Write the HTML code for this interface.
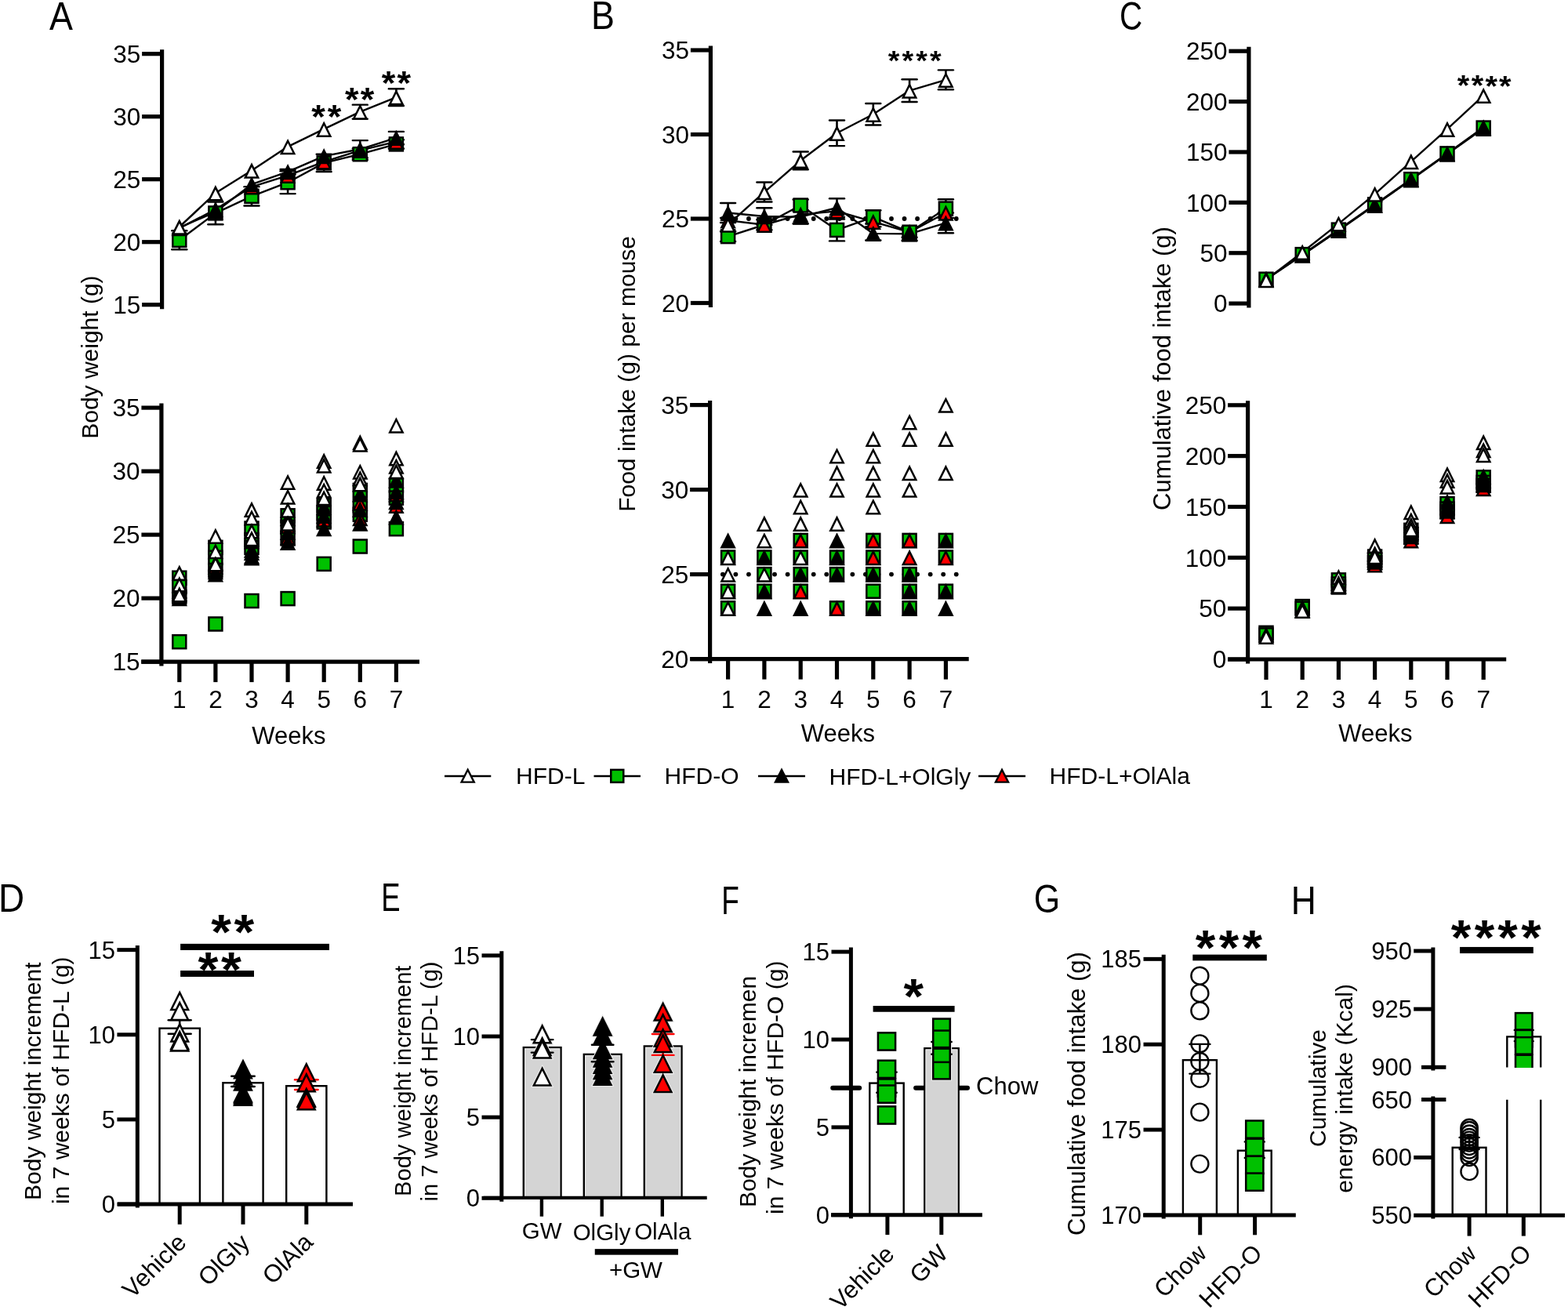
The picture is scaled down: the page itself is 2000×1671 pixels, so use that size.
<!DOCTYPE html>
<html><head><meta charset="utf-8"><title>Figure</title>
<style>
html,body{margin:0;padding:0;background:#fff;}
svg{display:block;}
text{font-family:"Liberation Sans", Arial, sans-serif;fill:#000;}
</style></head>
<body>
<svg width="2000" height="1671" viewBox="0 0 2000 1671">
<rect width="2000" height="1671" fill="#fff"/>
<text x="78" y="37.5" font-size="49.3" text-anchor="middle" transform="translate(78 37.5) scale(0.91 1) translate(-78 -37.5)">A</text>
<text x="768.9" y="37.3" font-size="49.3" text-anchor="middle" transform="translate(768.9 37.3) scale(0.91 1) translate(-768.9 -37.3)">B</text>
<text x="1442.6" y="37.7" font-size="49.3" text-anchor="middle" transform="translate(1442.6 37.7) scale(0.82 1) translate(-1442.6 -37.7)">C</text>
<text x="14.65" y="1163.12" font-size="49.3" text-anchor="middle" transform="translate(14.65 1163.12) scale(0.93 1) translate(-14.65 -1163.12)">D</text>
<text x="498.5" y="1162.4" font-size="49.3" text-anchor="middle" transform="translate(498.5 1162.4) scale(0.74 1) translate(-498.5 -1162.4)">E</text>
<text x="931.5" y="1166.4" font-size="49.3" text-anchor="middle" transform="translate(931.5 1166.4) scale(0.75 1) translate(-931.5 -1166.4)">F</text>
<text x="1335.5" y="1164" font-size="49.3" text-anchor="middle" transform="translate(1335.5 1164) scale(0.87 1) translate(-1335.5 -1164)">G</text>
<text x="1662.9" y="1165.9" font-size="49.3" text-anchor="middle" transform="translate(1662.9 1165.9) scale(0.9 1) translate(-1662.9 -1165.9)">H</text>
<text x="125.5" y="455.6" font-size="30" text-anchor="middle" transform="rotate(-90 125.5 455.6)">Body weight (g)</text>
<line x1="206.6" y1="63.2" x2="206.6" y2="394.2" stroke="#000" stroke-width="5.2" stroke-linecap="butt"/>
<line x1="181.1" y1="68.7" x2="206.6" y2="68.7" stroke="#000" stroke-width="5.2" stroke-linecap="butt"/>
<line x1="181.1" y1="148.7" x2="206.6" y2="148.7" stroke="#000" stroke-width="5.2" stroke-linecap="butt"/>
<line x1="181.1" y1="228.7" x2="206.6" y2="228.7" stroke="#000" stroke-width="5.2" stroke-linecap="butt"/>
<line x1="181.1" y1="308.7" x2="206.6" y2="308.7" stroke="#000" stroke-width="5.2" stroke-linecap="butt"/>
<line x1="181.1" y1="388.7" x2="206.6" y2="388.7" stroke="#000" stroke-width="5.2" stroke-linecap="butt"/>
<text x="179.3" y="79.88" font-size="31.5" text-anchor="end">35</text>
<text x="179.3" y="159.88" font-size="31.5" text-anchor="end">30</text>
<text x="179.3" y="239.88" font-size="31.5" text-anchor="end">25</text>
<text x="179.3" y="319.88" font-size="31.5" text-anchor="end">20</text>
<text x="179.3" y="399.88" font-size="31.5" text-anchor="end">15</text>
<polyline points="228.8,306.3 274.9,271.9 321,250.3 367.1,232.7 413.2,207.9 459.3,196.7 505.4,183.9" fill="none" stroke="#000" stroke-width="2.4" stroke-linejoin="round"/>
<polyline points="228.8,291.1 274.9,267.1 321,238.3 367.1,223.9 413.2,206.3 459.3,191.9 505.4,180.7" fill="none" stroke="#000" stroke-width="2.4" stroke-linejoin="round"/>
<polyline points="228.8,290.3 274.9,270.3 321,235.1 367.1,219.1 413.2,199.1 459.3,190.3 505.4,175.9" fill="none" stroke="#000" stroke-width="2.4" stroke-linejoin="round"/>
<polyline points="228.8,289.5 274.9,246.3 321,217.5 367.1,187.1 413.2,164.7 459.3,142.62 505.4,124.06" fill="none" stroke="#000" stroke-width="2.4" stroke-linejoin="round"/>
<line x1="228.8" y1="294.3" x2="228.8" y2="318.3" stroke="#000" stroke-width="2.6" stroke-linecap="butt"/>
<line x1="219.3" y1="294.3" x2="238.3" y2="294.3" stroke="#000" stroke-width="2.4" stroke-linecap="round"/>
<line x1="219.3" y1="318.3" x2="238.3" y2="318.3" stroke="#000" stroke-width="2.4" stroke-linecap="round"/>
<line x1="274.9" y1="257.5" x2="274.9" y2="286.3" stroke="#000" stroke-width="2.6" stroke-linecap="butt"/>
<line x1="265.4" y1="257.5" x2="284.4" y2="257.5" stroke="#000" stroke-width="2.4" stroke-linecap="round"/>
<line x1="265.4" y1="286.3" x2="284.4" y2="286.3" stroke="#000" stroke-width="2.4" stroke-linecap="round"/>
<line x1="321" y1="238.14" x2="321" y2="262.46" stroke="#000" stroke-width="2.6" stroke-linecap="butt"/>
<line x1="311.5" y1="238.14" x2="330.5" y2="238.14" stroke="#000" stroke-width="2.4" stroke-linecap="round"/>
<line x1="311.5" y1="262.46" x2="330.5" y2="262.46" stroke="#000" stroke-width="2.4" stroke-linecap="round"/>
<line x1="367.1" y1="218.3" x2="367.1" y2="247.1" stroke="#000" stroke-width="2.6" stroke-linecap="butt"/>
<line x1="357.6" y1="218.3" x2="376.6" y2="218.3" stroke="#000" stroke-width="2.4" stroke-linecap="round"/>
<line x1="357.6" y1="247.1" x2="376.6" y2="247.1" stroke="#000" stroke-width="2.4" stroke-linecap="round"/>
<line x1="413.2" y1="196.7" x2="413.2" y2="219.1" stroke="#000" stroke-width="2.6" stroke-linecap="butt"/>
<line x1="403.7" y1="196.7" x2="422.7" y2="196.7" stroke="#000" stroke-width="2.4" stroke-linecap="round"/>
<line x1="403.7" y1="219.1" x2="422.7" y2="219.1" stroke="#000" stroke-width="2.4" stroke-linecap="round"/>
<line x1="459.3" y1="189.5" x2="459.3" y2="203.9" stroke="#000" stroke-width="2.6" stroke-linecap="butt"/>
<line x1="449.8" y1="189.5" x2="468.8" y2="189.5" stroke="#000" stroke-width="2.4" stroke-linecap="round"/>
<line x1="449.8" y1="203.9" x2="468.8" y2="203.9" stroke="#000" stroke-width="2.4" stroke-linecap="round"/>
<line x1="505.4" y1="178.3" x2="505.4" y2="189.5" stroke="#000" stroke-width="2.6" stroke-linecap="butt"/>
<line x1="495.9" y1="178.3" x2="514.9" y2="178.3" stroke="#000" stroke-width="2.4" stroke-linecap="round"/>
<line x1="495.9" y1="189.5" x2="514.9" y2="189.5" stroke="#000" stroke-width="2.4" stroke-linecap="round"/>
<line x1="367.1" y1="215.9" x2="367.1" y2="222.3" stroke="#000" stroke-width="2.6" stroke-linecap="butt"/>
<line x1="357.6" y1="215.9" x2="376.6" y2="215.9" stroke="#000" stroke-width="2.4" stroke-linecap="round"/>
<line x1="357.6" y1="222.3" x2="376.6" y2="222.3" stroke="#000" stroke-width="2.4" stroke-linecap="round"/>
<line x1="459.3" y1="179.1" x2="459.3" y2="201.5" stroke="#000" stroke-width="2.6" stroke-linecap="butt"/>
<line x1="449.8" y1="179.1" x2="468.8" y2="179.1" stroke="#000" stroke-width="2.4" stroke-linecap="round"/>
<line x1="449.8" y1="201.5" x2="468.8" y2="201.5" stroke="#000" stroke-width="2.4" stroke-linecap="round"/>
<line x1="505.4" y1="167.9" x2="505.4" y2="183.9" stroke="#000" stroke-width="2.6" stroke-linecap="butt"/>
<line x1="495.9" y1="167.9" x2="514.9" y2="167.9" stroke="#000" stroke-width="2.4" stroke-linecap="round"/>
<line x1="495.9" y1="183.9" x2="514.9" y2="183.9" stroke="#000" stroke-width="2.4" stroke-linecap="round"/>
<line x1="459.3" y1="133.66" x2="459.3" y2="151.58" stroke="#000" stroke-width="2.6" stroke-linecap="butt"/>
<line x1="449.8" y1="133.66" x2="468.8" y2="133.66" stroke="#000" stroke-width="2.4" stroke-linecap="round"/>
<line x1="449.8" y1="151.58" x2="468.8" y2="151.58" stroke="#000" stroke-width="2.4" stroke-linecap="round"/>
<line x1="505.4" y1="113.18" x2="505.4" y2="134.94" stroke="#000" stroke-width="2.6" stroke-linecap="butt"/>
<line x1="495.9" y1="113.18" x2="514.9" y2="113.18" stroke="#000" stroke-width="2.4" stroke-linecap="round"/>
<line x1="495.9" y1="134.94" x2="514.9" y2="134.94" stroke="#000" stroke-width="2.4" stroke-linecap="round"/>
<rect x="219.05" y="296.55" width="19.5" height="19.5" fill="#000"/>
<rect x="221.55" y="299.05" width="14.5" height="14.5" fill="#00c000"/>
<rect x="265.15" y="262.15" width="19.5" height="19.5" fill="#000"/>
<rect x="267.65" y="264.65" width="14.5" height="14.5" fill="#00c000"/>
<rect x="311.25" y="240.55" width="19.5" height="19.5" fill="#000"/>
<rect x="313.75" y="243.05" width="14.5" height="14.5" fill="#00c000"/>
<rect x="357.35" y="222.95" width="19.5" height="19.5" fill="#000"/>
<rect x="359.85" y="225.45" width="14.5" height="14.5" fill="#00c000"/>
<rect x="403.45" y="198.15" width="19.5" height="19.5" fill="#000"/>
<rect x="405.95" y="200.65" width="14.5" height="14.5" fill="#00c000"/>
<rect x="449.55" y="186.95" width="19.5" height="19.5" fill="#000"/>
<rect x="452.05" y="189.45" width="14.5" height="14.5" fill="#00c000"/>
<rect x="495.65" y="174.15" width="19.5" height="19.5" fill="#000"/>
<rect x="498.15" y="176.65" width="14.5" height="14.5" fill="#00c000"/>
<polygon points="228.8,280.9 239,301.3 218.6,301.3" fill="#000"/>
<polygon points="228.8,286.49 234.95,298.8 222.65,298.8" fill="#ff0000"/>
<polygon points="274.9,256.9 285.1,277.3 264.7,277.3" fill="#000"/>
<polygon points="274.9,262.49 281.05,274.8 268.75,274.8" fill="#ff0000"/>
<polygon points="321,228.1 331.2,248.5 310.8,248.5" fill="#000"/>
<polygon points="321,233.69 327.15,246 314.85,246" fill="#ff0000"/>
<polygon points="367.1,213.7 377.3,234.1 356.9,234.1" fill="#000"/>
<polygon points="367.1,219.29 373.25,231.6 360.95,231.6" fill="#ff0000"/>
<polygon points="413.2,196.1 423.4,216.5 403,216.5" fill="#000"/>
<polygon points="413.2,201.69 419.35,214 407.05,214" fill="#ff0000"/>
<polygon points="459.3,181.7 469.5,202.1 449.1,202.1" fill="#000"/>
<polygon points="459.3,187.29 465.45,199.6 453.15,199.6" fill="#ff0000"/>
<polygon points="505.4,170.5 515.6,190.9 495.2,190.9" fill="#000"/>
<polygon points="505.4,176.09 511.55,188.4 499.25,188.4" fill="#ff0000"/>
<polygon points="228.8,280.1 239,300.5 218.6,300.5" fill="#000"/>
<polygon points="274.9,260.1 285.1,280.5 264.7,280.5" fill="#000"/>
<polygon points="321,224.9 331.2,245.3 310.8,245.3" fill="#000"/>
<polygon points="367.1,208.9 377.3,229.3 356.9,229.3" fill="#000"/>
<polygon points="413.2,188.9 423.4,209.3 403,209.3" fill="#000"/>
<polygon points="459.3,180.1 469.5,200.5 449.1,200.5" fill="#000"/>
<polygon points="505.4,165.7 515.6,186.1 495.2,186.1" fill="#000"/>
<polygon points="228.8,279.3 239,299.7 218.6,299.7" fill="#000"/>
<polygon points="228.8,284.89 234.95,297.2 222.65,297.2" fill="#fff"/>
<polygon points="274.9,236.1 285.1,256.5 264.7,256.5" fill="#000"/>
<polygon points="274.9,241.69 281.05,254 268.75,254" fill="#fff"/>
<polygon points="321,207.3 331.2,227.7 310.8,227.7" fill="#000"/>
<polygon points="321,212.89 327.15,225.2 314.85,225.2" fill="#fff"/>
<polygon points="367.1,176.9 377.3,197.3 356.9,197.3" fill="#000"/>
<polygon points="367.1,182.49 373.25,194.8 360.95,194.8" fill="#fff"/>
<polygon points="413.2,154.5 423.4,174.9 403,174.9" fill="#000"/>
<polygon points="413.2,160.09 419.35,172.4 407.05,172.4" fill="#fff"/>
<polygon points="459.3,132.42 469.5,152.82 449.1,152.82" fill="#000"/>
<polygon points="459.3,138.01 465.45,150.32 453.15,150.32" fill="#fff"/>
<polygon points="505.4,113.86 515.6,134.26 495.2,134.26" fill="#000"/>
<polygon points="505.4,119.45 511.55,131.76 499.25,131.76" fill="#fff"/>
<text x="406" y="163.4" font-size="42.97" text-anchor="middle" font-weight="bold" transform="translate(406 163.4) scale(1.05 1) translate(-406 -163.4)">*</text>
<text x="426.6" y="163.4" font-size="42.97" text-anchor="middle" font-weight="bold" transform="translate(426.6 163.4) scale(1.05 1) translate(-426.6 -163.4)">*</text>
<text x="448.8" y="140.6" font-size="42.97" text-anchor="middle" font-weight="bold" transform="translate(448.8 140.6) scale(1.05 1) translate(-448.8 -140.6)">*</text>
<text x="468.6" y="140.6" font-size="42.97" text-anchor="middle" font-weight="bold" transform="translate(468.6 140.6) scale(1.05 1) translate(-468.6 -140.6)">*</text>
<text x="495.6" y="119.8" font-size="42.97" text-anchor="middle" font-weight="bold" transform="translate(495.6 119.8) scale(1.05 1) translate(-495.6 -119.8)">*</text>
<text x="515.4" y="119.8" font-size="42.97" text-anchor="middle" font-weight="bold" transform="translate(515.4 119.8) scale(1.05 1) translate(-515.4 -119.8)">*</text>
<line x1="205.9" y1="514.6" x2="205.9" y2="849.6" stroke="#000" stroke-width="5.2" stroke-linecap="butt"/>
<line x1="180.4" y1="520.1" x2="205.9" y2="520.1" stroke="#000" stroke-width="5.2" stroke-linecap="butt"/>
<line x1="180.4" y1="601.1" x2="205.9" y2="601.1" stroke="#000" stroke-width="5.2" stroke-linecap="butt"/>
<line x1="180.4" y1="682.1" x2="205.9" y2="682.1" stroke="#000" stroke-width="5.2" stroke-linecap="butt"/>
<line x1="180.4" y1="763.1" x2="205.9" y2="763.1" stroke="#000" stroke-width="5.2" stroke-linecap="butt"/>
<line x1="180.4" y1="844.1" x2="205.9" y2="844.1" stroke="#000" stroke-width="5.2" stroke-linecap="butt"/>
<text x="178.6" y="531.28" font-size="31.5" text-anchor="end">35</text>
<text x="178.6" y="612.28" font-size="31.5" text-anchor="end">30</text>
<text x="178.6" y="693.28" font-size="31.5" text-anchor="end">25</text>
<text x="178.6" y="774.28" font-size="31.5" text-anchor="end">20</text>
<text x="178.6" y="855.28" font-size="31.5" text-anchor="end">15</text>
<line x1="180.2" y1="844.1" x2="535" y2="844.1" stroke="#000" stroke-width="5.2" stroke-linecap="butt"/>
<line x1="228.8" y1="844.1" x2="228.8" y2="870.1" stroke="#000" stroke-width="5.2" stroke-linecap="butt"/>
<line x1="274.9" y1="844.1" x2="274.9" y2="870.1" stroke="#000" stroke-width="5.2" stroke-linecap="butt"/>
<line x1="321" y1="844.1" x2="321" y2="870.1" stroke="#000" stroke-width="5.2" stroke-linecap="butt"/>
<line x1="367.1" y1="844.1" x2="367.1" y2="870.1" stroke="#000" stroke-width="5.2" stroke-linecap="butt"/>
<line x1="413.2" y1="844.1" x2="413.2" y2="870.1" stroke="#000" stroke-width="5.2" stroke-linecap="butt"/>
<line x1="459.3" y1="844.1" x2="459.3" y2="870.1" stroke="#000" stroke-width="5.2" stroke-linecap="butt"/>
<line x1="505.4" y1="844.1" x2="505.4" y2="870.1" stroke="#000" stroke-width="5.2" stroke-linecap="butt"/>
<text x="228.8" y="902.6" font-size="31.5" text-anchor="middle">1</text>
<text x="274.9" y="902.6" font-size="31.5" text-anchor="middle">2</text>
<text x="321" y="902.6" font-size="31.5" text-anchor="middle">3</text>
<text x="367.1" y="902.6" font-size="31.5" text-anchor="middle">4</text>
<text x="413.2" y="902.6" font-size="31.5" text-anchor="middle">5</text>
<text x="459.3" y="902.6" font-size="31.5" text-anchor="middle">6</text>
<text x="505.4" y="902.6" font-size="31.5" text-anchor="middle">7</text>
<text x="368.4" y="949.1" font-size="31" text-anchor="middle">Weeks</text>
<rect x="219.05" y="727.43" width="19.5" height="19.5" fill="#000"/>
<rect x="221.55" y="729.93" width="14.5" height="14.5" fill="#00c000"/>
<rect x="219.05" y="738.77" width="19.5" height="19.5" fill="#000"/>
<rect x="221.55" y="741.27" width="14.5" height="14.5" fill="#00c000"/>
<rect x="219.05" y="751.73" width="19.5" height="19.5" fill="#000"/>
<rect x="221.55" y="754.23" width="14.5" height="14.5" fill="#00c000"/>
<rect x="219.05" y="808.92" width="19.5" height="19.5" fill="#000"/>
<rect x="221.55" y="811.42" width="14.5" height="14.5" fill="#00c000"/>
<rect x="265.15" y="688.55" width="19.5" height="19.5" fill="#000"/>
<rect x="267.65" y="691.05" width="14.5" height="14.5" fill="#00c000"/>
<rect x="265.15" y="701.51" width="19.5" height="19.5" fill="#000"/>
<rect x="267.65" y="704.01" width="14.5" height="14.5" fill="#00c000"/>
<rect x="265.15" y="717.71" width="19.5" height="19.5" fill="#000"/>
<rect x="267.65" y="720.21" width="14.5" height="14.5" fill="#00c000"/>
<rect x="265.15" y="786.24" width="19.5" height="19.5" fill="#000"/>
<rect x="267.65" y="788.74" width="14.5" height="14.5" fill="#00c000"/>
<rect x="311.25" y="664.25" width="19.5" height="19.5" fill="#000"/>
<rect x="313.75" y="666.75" width="14.5" height="14.5" fill="#00c000"/>
<rect x="311.25" y="678.83" width="19.5" height="19.5" fill="#000"/>
<rect x="313.75" y="681.33" width="14.5" height="14.5" fill="#00c000"/>
<rect x="311.25" y="688.55" width="19.5" height="19.5" fill="#000"/>
<rect x="313.75" y="691.05" width="14.5" height="14.5" fill="#00c000"/>
<rect x="311.25" y="756.75" width="19.5" height="19.5" fill="#000"/>
<rect x="313.75" y="759.25" width="14.5" height="14.5" fill="#00c000"/>
<rect x="357.35" y="648.05" width="19.5" height="19.5" fill="#000"/>
<rect x="359.85" y="650.55" width="14.5" height="14.5" fill="#00c000"/>
<rect x="357.35" y="662.63" width="19.5" height="19.5" fill="#000"/>
<rect x="359.85" y="665.13" width="14.5" height="14.5" fill="#00c000"/>
<rect x="357.35" y="677.21" width="19.5" height="19.5" fill="#000"/>
<rect x="359.85" y="679.71" width="14.5" height="14.5" fill="#00c000"/>
<rect x="357.35" y="753.84" width="19.5" height="19.5" fill="#000"/>
<rect x="359.85" y="756.34" width="14.5" height="14.5" fill="#00c000"/>
<rect x="403.45" y="635.09" width="19.5" height="19.5" fill="#000"/>
<rect x="405.95" y="637.59" width="14.5" height="14.5" fill="#00c000"/>
<rect x="403.45" y="644.81" width="19.5" height="19.5" fill="#000"/>
<rect x="405.95" y="647.31" width="14.5" height="14.5" fill="#00c000"/>
<rect x="403.45" y="656.15" width="19.5" height="19.5" fill="#000"/>
<rect x="405.95" y="658.65" width="14.5" height="14.5" fill="#00c000"/>
<rect x="403.45" y="709.61" width="19.5" height="19.5" fill="#000"/>
<rect x="405.95" y="712.11" width="14.5" height="14.5" fill="#00c000"/>
<rect x="449.55" y="615.65" width="19.5" height="19.5" fill="#000"/>
<rect x="452.05" y="618.15" width="14.5" height="14.5" fill="#00c000"/>
<rect x="449.55" y="635.09" width="19.5" height="19.5" fill="#000"/>
<rect x="452.05" y="637.59" width="14.5" height="14.5" fill="#00c000"/>
<rect x="449.55" y="646.43" width="19.5" height="19.5" fill="#000"/>
<rect x="452.05" y="648.93" width="14.5" height="14.5" fill="#00c000"/>
<rect x="449.55" y="687.25" width="19.5" height="19.5" fill="#000"/>
<rect x="452.05" y="689.75" width="14.5" height="14.5" fill="#00c000"/>
<rect x="495.65" y="609.17" width="19.5" height="19.5" fill="#000"/>
<rect x="498.15" y="611.67" width="14.5" height="14.5" fill="#00c000"/>
<rect x="495.65" y="625.37" width="19.5" height="19.5" fill="#000"/>
<rect x="498.15" y="627.87" width="14.5" height="14.5" fill="#00c000"/>
<rect x="495.65" y="664.9" width="19.5" height="19.5" fill="#000"/>
<rect x="498.15" y="667.4" width="14.5" height="14.5" fill="#00c000"/>
<polygon points="228.8,743.18 239,763.58 218.6,763.58" fill="#000"/>
<polygon points="228.8,748.77 234.95,761.08 222.65,761.08" fill="#ff0000"/>
<polygon points="274.9,712.4 285.1,732.8 264.7,732.8" fill="#000"/>
<polygon points="274.9,717.99 281.05,730.3 268.75,730.3" fill="#ff0000"/>
<polygon points="321,694.58 331.2,714.98 310.8,714.98" fill="#000"/>
<polygon points="321,700.17 327.15,712.48 314.85,712.48" fill="#ff0000"/>
<polygon points="321,701.06 331.2,721.46 310.8,721.46" fill="#000"/>
<polygon points="321,706.65 327.15,718.96 314.85,718.96" fill="#ff0000"/>
<polygon points="367.1,660.56 377.3,680.96 356.9,680.96" fill="#000"/>
<polygon points="367.1,666.15 373.25,678.46 360.95,678.46" fill="#ff0000"/>
<polygon points="367.1,675.14 377.3,695.54 356.9,695.54" fill="#000"/>
<polygon points="367.1,680.73 373.25,693.04 360.95,693.04" fill="#ff0000"/>
<polygon points="413.2,652.46 423.4,672.86 403,672.86" fill="#000"/>
<polygon points="413.2,658.05 419.35,670.36 407.05,670.36" fill="#ff0000"/>
<polygon points="459.3,631.4 469.5,651.8 449.1,651.8" fill="#000"/>
<polygon points="459.3,636.99 465.45,649.3 453.15,649.3" fill="#ff0000"/>
<polygon points="459.3,650.84 469.5,671.24 449.1,671.24" fill="#000"/>
<polygon points="459.3,656.43 465.45,668.74 453.15,668.74" fill="#ff0000"/>
<polygon points="505.4,620.06 515.6,640.46 495.2,640.46" fill="#000"/>
<polygon points="505.4,625.65 511.55,637.96 499.25,637.96" fill="#ff0000"/>
<polygon points="505.4,634.64 515.6,655.04 495.2,655.04" fill="#000"/>
<polygon points="505.4,640.23 511.55,652.54 499.25,652.54" fill="#ff0000"/>
<polygon points="228.8,736.7 239,757.1 218.6,757.1" fill="#000"/>
<polygon points="228.8,746.42 239,766.82 218.6,766.82" fill="#000"/>
<polygon points="228.8,752.9 239,773.3 218.6,773.3" fill="#000"/>
<polygon points="274.9,707.54 285.1,727.94 264.7,727.94" fill="#000"/>
<polygon points="274.9,718.88 285.1,739.28 264.7,739.28" fill="#000"/>
<polygon points="274.9,722.12 285.1,742.52 264.7,742.52" fill="#000"/>
<polygon points="321,680 331.2,700.4 310.8,700.4" fill="#000"/>
<polygon points="321,691.34 331.2,711.74 310.8,711.74" fill="#000"/>
<polygon points="321,699.44 331.2,719.84 310.8,719.84" fill="#000"/>
<polygon points="367.1,650.84 377.3,671.24 356.9,671.24" fill="#000"/>
<polygon points="367.1,668.66 377.3,689.06 356.9,689.06" fill="#000"/>
<polygon points="367.1,681.62 377.3,702.02 356.9,702.02" fill="#000"/>
<polygon points="413.2,636.26 423.4,656.66 403,656.66" fill="#000"/>
<polygon points="413.2,647.6 423.4,668 403,668" fill="#000"/>
<polygon points="413.2,663.8 423.4,684.2 403,684.2" fill="#000"/>
<polygon points="459.3,620.06 469.5,640.46 449.1,640.46" fill="#000"/>
<polygon points="459.3,639.5 469.5,659.9 449.1,659.9" fill="#000"/>
<polygon points="459.3,657.32 469.5,677.72 449.1,677.72" fill="#000"/>
<polygon points="505.4,602.24 515.6,622.64 495.2,622.64" fill="#000"/>
<polygon points="505.4,616.82 515.6,637.22 495.2,637.22" fill="#000"/>
<polygon points="505.4,629.78 515.6,650.18 495.2,650.18" fill="#000"/>
<polygon points="505.4,649.22 515.6,669.62 495.2,669.62" fill="#000"/>
<polygon points="228.8,720.5 239,740.9 218.6,740.9" fill="#000"/>
<polygon points="228.8,726.09 234.95,738.4 222.65,738.4" fill="#fff"/>
<polygon points="228.8,735.08 239,755.48 218.6,755.48" fill="#000"/>
<polygon points="228.8,740.67 234.95,752.98 222.65,752.98" fill="#fff"/>
<polygon points="228.8,748.04 239,768.44 218.6,768.44" fill="#000"/>
<polygon points="228.8,753.63 234.95,765.94 222.65,765.94" fill="#fff"/>
<polygon points="274.9,673.52 285.1,693.92 264.7,693.92" fill="#000"/>
<polygon points="274.9,679.11 281.05,691.42 268.75,691.42" fill="#fff"/>
<polygon points="274.9,692.96 285.1,713.36 264.7,713.36" fill="#000"/>
<polygon points="274.9,698.55 281.05,710.86 268.75,710.86" fill="#fff"/>
<polygon points="274.9,709.16 285.1,729.56 264.7,729.56" fill="#000"/>
<polygon points="274.9,714.75 281.05,727.06 268.75,727.06" fill="#fff"/>
<polygon points="321,639.5 331.2,659.9 310.8,659.9" fill="#000"/>
<polygon points="321,645.09 327.15,657.4 314.85,657.4" fill="#fff"/>
<polygon points="321,650.03 331.2,670.43 310.8,670.43" fill="#000"/>
<polygon points="321,655.62 327.15,667.93 314.85,667.93" fill="#fff"/>
<polygon points="321,667.04 331.2,687.44 310.8,687.44" fill="#000"/>
<polygon points="321,672.63 327.15,684.94 314.85,684.94" fill="#fff"/>
<polygon points="321,676.76 331.2,697.16 310.8,697.16" fill="#000"/>
<polygon points="321,682.35 327.15,694.66 314.85,694.66" fill="#fff"/>
<polygon points="367.1,604.67 377.3,625.07 356.9,625.07" fill="#000"/>
<polygon points="367.1,610.26 373.25,622.57 360.95,622.57" fill="#fff"/>
<polygon points="367.1,623.3 377.3,643.7 356.9,643.7" fill="#000"/>
<polygon points="367.1,628.89 373.25,641.2 360.95,641.2" fill="#fff"/>
<polygon points="367.1,640.31 377.3,660.71 356.9,660.71" fill="#000"/>
<polygon points="367.1,645.9 373.25,658.21 360.95,658.21" fill="#fff"/>
<polygon points="367.1,657.32 377.3,677.72 356.9,677.72" fill="#000"/>
<polygon points="367.1,662.91 373.25,675.22 360.95,675.22" fill="#fff"/>
<polygon points="413.2,577.62 423.4,598.02 403,598.02" fill="#000"/>
<polygon points="413.2,583.21 419.35,595.52 407.05,595.52" fill="#fff"/>
<polygon points="413.2,583.45 423.4,603.85 403,603.85" fill="#000"/>
<polygon points="413.2,589.04 419.35,601.35 407.05,601.35" fill="#fff"/>
<polygon points="413.2,605.48 423.4,625.88 403,625.88" fill="#000"/>
<polygon points="413.2,611.07 419.35,623.38 407.05,623.38" fill="#fff"/>
<polygon points="413.2,615.2 423.4,635.6 403,635.6" fill="#000"/>
<polygon points="413.2,620.79 419.35,633.1 407.05,633.1" fill="#fff"/>
<polygon points="413.2,624.92 423.4,645.32 403,645.32" fill="#000"/>
<polygon points="413.2,630.51 419.35,642.82 407.05,642.82" fill="#fff"/>
<polygon points="459.3,553.96 469.5,574.36 449.1,574.36" fill="#000"/>
<polygon points="459.3,559.55 465.45,571.86 453.15,571.86" fill="#fff"/>
<polygon points="459.3,556.39 469.5,576.79 449.1,576.79" fill="#000"/>
<polygon points="459.3,561.98 465.45,574.29 453.15,574.29" fill="#fff"/>
<polygon points="459.3,591.39 469.5,611.79 449.1,611.79" fill="#000"/>
<polygon points="459.3,596.98 465.45,609.29 453.15,609.29" fill="#fff"/>
<polygon points="459.3,599.81 469.5,620.21 449.1,620.21" fill="#000"/>
<polygon points="459.3,605.4 465.45,617.71 453.15,617.71" fill="#fff"/>
<polygon points="459.3,607.1 469.5,627.5 449.1,627.5" fill="#000"/>
<polygon points="459.3,612.69 465.45,625 453.15,625" fill="#fff"/>
<polygon points="505.4,532.26 515.6,552.66 495.2,552.66" fill="#000"/>
<polygon points="505.4,537.85 511.55,550.16 499.25,550.16" fill="#fff"/>
<polygon points="505.4,574.05 515.6,594.45 495.2,594.45" fill="#000"/>
<polygon points="505.4,579.64 511.55,591.95 499.25,591.95" fill="#fff"/>
<polygon points="505.4,584.42 515.6,604.82 495.2,604.82" fill="#000"/>
<polygon points="505.4,590.01 511.55,602.32 499.25,602.32" fill="#fff"/>
<polygon points="505.4,590.9 515.6,611.3 495.2,611.3" fill="#000"/>
<polygon points="505.4,596.49 511.55,608.8 499.25,608.8" fill="#fff"/>
<text x="809.55" y="476.9" font-size="30" text-anchor="middle" transform="rotate(-90 809.55 476.9)">Food intake (g) per mouse</text>
<line x1="906.4" y1="58.5" x2="906.4" y2="392" stroke="#000" stroke-width="5.2" stroke-linecap="butt"/>
<line x1="880.9" y1="64" x2="906.4" y2="64" stroke="#000" stroke-width="5.2" stroke-linecap="butt"/>
<line x1="880.9" y1="171.5" x2="906.4" y2="171.5" stroke="#000" stroke-width="5.2" stroke-linecap="butt"/>
<line x1="880.9" y1="279" x2="906.4" y2="279" stroke="#000" stroke-width="5.2" stroke-linecap="butt"/>
<line x1="880.9" y1="386.5" x2="906.4" y2="386.5" stroke="#000" stroke-width="5.2" stroke-linecap="butt"/>
<text x="879.1" y="75.18" font-size="31.5" text-anchor="end">35</text>
<text x="879.1" y="182.68" font-size="31.5" text-anchor="end">30</text>
<text x="879.1" y="290.18" font-size="31.5" text-anchor="end">25</text>
<text x="879.1" y="397.68" font-size="31.5" text-anchor="end">20</text>
<circle cx="921.85" cy="279" r="2.9" fill="#000"/>
<circle cx="938.4" cy="279" r="2.9" fill="#000"/>
<circle cx="954.95" cy="279" r="2.9" fill="#000"/>
<circle cx="971.5" cy="279" r="2.9" fill="#000"/>
<circle cx="988.05" cy="279" r="2.9" fill="#000"/>
<circle cx="1004.6" cy="279" r="2.9" fill="#000"/>
<circle cx="1021.15" cy="279" r="2.9" fill="#000"/>
<circle cx="1037.7" cy="279" r="2.9" fill="#000"/>
<circle cx="1054.25" cy="279" r="2.9" fill="#000"/>
<circle cx="1070.8" cy="279" r="2.9" fill="#000"/>
<circle cx="1087.35" cy="279" r="2.9" fill="#000"/>
<circle cx="1103.9" cy="279" r="2.9" fill="#000"/>
<circle cx="1120.45" cy="279" r="2.9" fill="#000"/>
<circle cx="1137" cy="279" r="2.9" fill="#000"/>
<circle cx="1153.55" cy="279" r="2.9" fill="#000"/>
<circle cx="1170.1" cy="279" r="2.9" fill="#000"/>
<circle cx="1186.65" cy="279" r="2.9" fill="#000"/>
<circle cx="1203.2" cy="279" r="2.9" fill="#000"/>
<circle cx="1219.75" cy="279" r="2.9" fill="#000"/>
<polyline points="928.6,301.58 974.9,286.74 1021.2,262.02 1067.5,293.41 1113.8,276.85 1160.1,296.2 1206.4,266.1" fill="none" stroke="#000" stroke-width="2.4" stroke-linejoin="round"/>
<polyline points="928.6,281.15 974.9,286.74 1021.2,273.62 1067.5,269.32 1113.8,282.87 1160.1,296.2 1206.4,271.47" fill="none" stroke="#000" stroke-width="2.4" stroke-linejoin="round"/>
<polyline points="928.6,271.47 974.9,275.99 1021.2,276.63 1067.5,265.03 1113.8,297.92 1160.1,298.35 1206.4,284.38" fill="none" stroke="#000" stroke-width="2.4" stroke-linejoin="round"/>
<polyline points="928.6,286.53 974.9,245.03 1021.2,204.83 1067.5,169.78 1113.8,145.7 1160.1,115.6 1206.4,101.84" fill="none" stroke="#000" stroke-width="2.4" stroke-linejoin="round"/>
<line x1="928.6" y1="295.12" x2="928.6" y2="308.03" stroke="#000" stroke-width="2.6" stroke-linecap="butt"/>
<line x1="919.1" y1="295.12" x2="938.1" y2="295.12" stroke="#000" stroke-width="2.4" stroke-linecap="round"/>
<line x1="919.1" y1="308.03" x2="938.1" y2="308.03" stroke="#000" stroke-width="2.4" stroke-linecap="round"/>
<line x1="974.9" y1="280.29" x2="974.9" y2="293.19" stroke="#000" stroke-width="2.6" stroke-linecap="butt"/>
<line x1="965.4" y1="280.29" x2="984.4" y2="280.29" stroke="#000" stroke-width="2.4" stroke-linecap="round"/>
<line x1="965.4" y1="293.19" x2="984.4" y2="293.19" stroke="#000" stroke-width="2.4" stroke-linecap="round"/>
<line x1="1021.2" y1="254.49" x2="1021.2" y2="269.54" stroke="#000" stroke-width="2.6" stroke-linecap="butt"/>
<line x1="1011.7" y1="254.49" x2="1030.7" y2="254.49" stroke="#000" stroke-width="2.4" stroke-linecap="round"/>
<line x1="1011.7" y1="269.54" x2="1030.7" y2="269.54" stroke="#000" stroke-width="2.4" stroke-linecap="round"/>
<line x1="1067.5" y1="279.43" x2="1067.5" y2="307.38" stroke="#000" stroke-width="2.6" stroke-linecap="butt"/>
<line x1="1058" y1="279.43" x2="1077" y2="279.43" stroke="#000" stroke-width="2.4" stroke-linecap="round"/>
<line x1="1058" y1="307.38" x2="1077" y2="307.38" stroke="#000" stroke-width="2.4" stroke-linecap="round"/>
<line x1="1113.8" y1="268.25" x2="1113.8" y2="285.45" stroke="#000" stroke-width="2.6" stroke-linecap="butt"/>
<line x1="1104.3" y1="268.25" x2="1123.3" y2="268.25" stroke="#000" stroke-width="2.4" stroke-linecap="round"/>
<line x1="1104.3" y1="285.45" x2="1123.3" y2="285.45" stroke="#000" stroke-width="2.4" stroke-linecap="round"/>
<line x1="1160.1" y1="289.75" x2="1160.1" y2="302.65" stroke="#000" stroke-width="2.6" stroke-linecap="butt"/>
<line x1="1150.6" y1="289.75" x2="1169.6" y2="289.75" stroke="#000" stroke-width="2.4" stroke-linecap="round"/>
<line x1="1150.6" y1="302.65" x2="1169.6" y2="302.65" stroke="#000" stroke-width="2.4" stroke-linecap="round"/>
<line x1="1206.4" y1="254.27" x2="1206.4" y2="277.93" stroke="#000" stroke-width="2.6" stroke-linecap="butt"/>
<line x1="1196.9" y1="254.27" x2="1215.9" y2="254.27" stroke="#000" stroke-width="2.4" stroke-linecap="round"/>
<line x1="1196.9" y1="277.93" x2="1215.9" y2="277.93" stroke="#000" stroke-width="2.4" stroke-linecap="round"/>
<line x1="928.6" y1="259" x2="928.6" y2="283.94" stroke="#000" stroke-width="2.6" stroke-linecap="butt"/>
<line x1="919.1" y1="259" x2="938.1" y2="259" stroke="#000" stroke-width="2.4" stroke-linecap="round"/>
<line x1="919.1" y1="283.94" x2="938.1" y2="283.94" stroke="#000" stroke-width="2.4" stroke-linecap="round"/>
<line x1="974.9" y1="265.24" x2="974.9" y2="286.74" stroke="#000" stroke-width="2.6" stroke-linecap="butt"/>
<line x1="965.4" y1="265.24" x2="984.4" y2="265.24" stroke="#000" stroke-width="2.4" stroke-linecap="round"/>
<line x1="965.4" y1="286.74" x2="984.4" y2="286.74" stroke="#000" stroke-width="2.4" stroke-linecap="round"/>
<line x1="1021.2" y1="268.04" x2="1021.2" y2="285.23" stroke="#000" stroke-width="2.6" stroke-linecap="butt"/>
<line x1="1011.7" y1="268.04" x2="1030.7" y2="268.04" stroke="#000" stroke-width="2.4" stroke-linecap="round"/>
<line x1="1011.7" y1="285.23" x2="1030.7" y2="285.23" stroke="#000" stroke-width="2.4" stroke-linecap="round"/>
<line x1="1067.5" y1="253.2" x2="1067.5" y2="276.85" stroke="#000" stroke-width="2.6" stroke-linecap="butt"/>
<line x1="1058" y1="253.2" x2="1077" y2="253.2" stroke="#000" stroke-width="2.4" stroke-linecap="round"/>
<line x1="1058" y1="276.85" x2="1077" y2="276.85" stroke="#000" stroke-width="2.4" stroke-linecap="round"/>
<line x1="1113.8" y1="289.32" x2="1113.8" y2="306.52" stroke="#000" stroke-width="2.6" stroke-linecap="butt"/>
<line x1="1104.3" y1="289.32" x2="1123.3" y2="289.32" stroke="#000" stroke-width="2.4" stroke-linecap="round"/>
<line x1="1104.3" y1="306.52" x2="1123.3" y2="306.52" stroke="#000" stroke-width="2.4" stroke-linecap="round"/>
<line x1="1160.1" y1="289.75" x2="1160.1" y2="306.95" stroke="#000" stroke-width="2.6" stroke-linecap="butt"/>
<line x1="1150.6" y1="289.75" x2="1169.6" y2="289.75" stroke="#000" stroke-width="2.4" stroke-linecap="round"/>
<line x1="1150.6" y1="306.95" x2="1169.6" y2="306.95" stroke="#000" stroke-width="2.4" stroke-linecap="round"/>
<line x1="1206.4" y1="271.47" x2="1206.4" y2="297.28" stroke="#000" stroke-width="2.6" stroke-linecap="butt"/>
<line x1="1196.9" y1="271.47" x2="1215.9" y2="271.47" stroke="#000" stroke-width="2.4" stroke-linecap="round"/>
<line x1="1196.9" y1="297.28" x2="1215.9" y2="297.28" stroke="#000" stroke-width="2.4" stroke-linecap="round"/>
<line x1="928.6" y1="277.93" x2="928.6" y2="295.12" stroke="#000" stroke-width="2.6" stroke-linecap="butt"/>
<line x1="919.1" y1="277.93" x2="938.1" y2="277.93" stroke="#000" stroke-width="2.4" stroke-linecap="round"/>
<line x1="919.1" y1="295.12" x2="938.1" y2="295.12" stroke="#000" stroke-width="2.4" stroke-linecap="round"/>
<line x1="974.9" y1="232.56" x2="974.9" y2="257.5" stroke="#000" stroke-width="2.6" stroke-linecap="butt"/>
<line x1="965.4" y1="232.56" x2="984.4" y2="232.56" stroke="#000" stroke-width="2.4" stroke-linecap="round"/>
<line x1="965.4" y1="257.5" x2="984.4" y2="257.5" stroke="#000" stroke-width="2.4" stroke-linecap="round"/>
<line x1="1021.2" y1="193.43" x2="1021.2" y2="216.22" stroke="#000" stroke-width="2.6" stroke-linecap="butt"/>
<line x1="1011.7" y1="193.43" x2="1030.7" y2="193.43" stroke="#000" stroke-width="2.4" stroke-linecap="round"/>
<line x1="1011.7" y1="216.22" x2="1030.7" y2="216.22" stroke="#000" stroke-width="2.4" stroke-linecap="round"/>
<line x1="1067.5" y1="153.44" x2="1067.5" y2="186.12" stroke="#000" stroke-width="2.6" stroke-linecap="butt"/>
<line x1="1058" y1="153.44" x2="1077" y2="153.44" stroke="#000" stroke-width="2.4" stroke-linecap="round"/>
<line x1="1058" y1="186.12" x2="1077" y2="186.12" stroke="#000" stroke-width="2.4" stroke-linecap="round"/>
<line x1="1113.8" y1="131.94" x2="1113.8" y2="159.46" stroke="#000" stroke-width="2.6" stroke-linecap="butt"/>
<line x1="1104.3" y1="131.94" x2="1123.3" y2="131.94" stroke="#000" stroke-width="2.4" stroke-linecap="round"/>
<line x1="1104.3" y1="159.46" x2="1123.3" y2="159.46" stroke="#000" stroke-width="2.4" stroke-linecap="round"/>
<line x1="1160.1" y1="101.19" x2="1160.1" y2="130" stroke="#000" stroke-width="2.6" stroke-linecap="butt"/>
<line x1="1150.6" y1="101.19" x2="1169.6" y2="101.19" stroke="#000" stroke-width="2.4" stroke-linecap="round"/>
<line x1="1150.6" y1="130" x2="1169.6" y2="130" stroke="#000" stroke-width="2.4" stroke-linecap="round"/>
<line x1="1206.4" y1="89.37" x2="1206.4" y2="114.31" stroke="#000" stroke-width="2.6" stroke-linecap="butt"/>
<line x1="1196.9" y1="89.37" x2="1215.9" y2="89.37" stroke="#000" stroke-width="2.4" stroke-linecap="round"/>
<line x1="1196.9" y1="114.31" x2="1215.9" y2="114.31" stroke="#000" stroke-width="2.4" stroke-linecap="round"/>
<rect x="918.85" y="291.83" width="19.5" height="19.5" fill="#000"/>
<rect x="921.35" y="294.33" width="14.5" height="14.5" fill="#00c000"/>
<rect x="965.15" y="276.99" width="19.5" height="19.5" fill="#000"/>
<rect x="967.65" y="279.49" width="14.5" height="14.5" fill="#00c000"/>
<rect x="1011.45" y="252.27" width="19.5" height="19.5" fill="#000"/>
<rect x="1013.95" y="254.77" width="14.5" height="14.5" fill="#00c000"/>
<rect x="1057.75" y="283.66" width="19.5" height="19.5" fill="#000"/>
<rect x="1060.25" y="286.16" width="14.5" height="14.5" fill="#00c000"/>
<rect x="1104.05" y="267.1" width="19.5" height="19.5" fill="#000"/>
<rect x="1106.55" y="269.6" width="14.5" height="14.5" fill="#00c000"/>
<rect x="1150.35" y="286.45" width="19.5" height="19.5" fill="#000"/>
<rect x="1152.85" y="288.95" width="14.5" height="14.5" fill="#00c000"/>
<rect x="1196.65" y="256.35" width="19.5" height="19.5" fill="#000"/>
<rect x="1199.15" y="258.85" width="14.5" height="14.5" fill="#00c000"/>
<polygon points="928.6,270.95 938.8,291.35 918.4,291.35" fill="#000"/>
<polygon points="928.6,276.54 934.75,288.85 922.45,288.85" fill="#ff0000"/>
<polygon points="974.9,276.54 985.1,296.94 964.7,296.94" fill="#000"/>
<polygon points="974.9,282.13 981.05,294.44 968.75,294.44" fill="#ff0000"/>
<polygon points="1021.2,263.43 1031.4,283.82 1011,283.82" fill="#000"/>
<polygon points="1021.2,269.02 1027.35,281.32 1015.05,281.32" fill="#ff0000"/>
<polygon points="1067.5,259.12 1077.7,279.52 1057.3,279.52" fill="#000"/>
<polygon points="1067.5,264.72 1073.65,277.02 1061.35,277.02" fill="#ff0000"/>
<polygon points="1113.8,272.67 1124,293.07 1103.6,293.07" fill="#000"/>
<polygon points="1113.8,278.26 1119.95,290.57 1107.65,290.57" fill="#ff0000"/>
<polygon points="1160.1,286 1170.3,306.4 1149.9,306.4" fill="#000"/>
<polygon points="1160.1,291.59 1166.25,303.9 1153.95,303.9" fill="#ff0000"/>
<polygon points="1206.4,261.27 1216.6,281.67 1196.2,281.67" fill="#000"/>
<polygon points="1206.4,266.87 1212.55,279.17 1200.25,279.17" fill="#ff0000"/>
<polygon points="928.6,261.27 938.8,281.67 918.4,281.67" fill="#000"/>
<polygon points="974.9,265.79 985.1,286.19 964.7,286.19" fill="#000"/>
<polygon points="1021.2,266.44 1031.4,286.83 1011,286.83" fill="#000"/>
<polygon points="1067.5,254.83 1077.7,275.23 1057.3,275.23" fill="#000"/>
<polygon points="1113.8,287.72 1124,308.12 1103.6,308.12" fill="#000"/>
<polygon points="1160.1,288.15 1170.3,308.55 1149.9,308.55" fill="#000"/>
<polygon points="1206.4,274.18 1216.6,294.57 1196.2,294.57" fill="#000"/>
<polygon points="928.6,276.33 938.8,296.73 918.4,296.73" fill="#000"/>
<polygon points="928.6,281.92 934.75,294.23 922.45,294.23" fill="#fff"/>
<polygon points="974.9,234.83 985.1,255.23 964.7,255.23" fill="#000"/>
<polygon points="974.9,240.42 981.05,252.73 968.75,252.73" fill="#fff"/>
<polygon points="1021.2,194.63 1031.4,215.03 1011,215.03" fill="#000"/>
<polygon points="1021.2,200.22 1027.35,212.53 1015.05,212.53" fill="#fff"/>
<polygon points="1067.5,159.58 1077.7,179.98 1057.3,179.98" fill="#000"/>
<polygon points="1067.5,165.17 1073.65,177.48 1061.35,177.48" fill="#fff"/>
<polygon points="1113.8,135.5 1124,155.9 1103.6,155.9" fill="#000"/>
<polygon points="1113.8,141.09 1119.95,153.4 1107.65,153.4" fill="#fff"/>
<polygon points="1160.1,105.4 1170.3,125.8 1149.9,125.8" fill="#000"/>
<polygon points="1160.1,110.99 1166.25,123.3 1153.95,123.3" fill="#fff"/>
<polygon points="1206.4,91.64 1216.6,112.04 1196.2,112.04" fill="#000"/>
<polygon points="1206.4,97.23 1212.55,109.54 1200.25,109.54" fill="#fff"/>
<text x="1140" y="88.95" font-size="35.95" text-anchor="middle" font-weight="bold" transform="translate(1140 88.95) scale(1.05 1) translate(-1140 -88.95)">*</text>
<text x="1157.8" y="88.95" font-size="35.95" text-anchor="middle" font-weight="bold" transform="translate(1157.8 88.95) scale(1.05 1) translate(-1157.8 -88.95)">*</text>
<text x="1175.6" y="88.95" font-size="35.95" text-anchor="middle" font-weight="bold" transform="translate(1175.6 88.95) scale(1.05 1) translate(-1175.6 -88.95)">*</text>
<text x="1193.4" y="88.95" font-size="35.95" text-anchor="middle" font-weight="bold" transform="translate(1193.4 88.95) scale(1.05 1) translate(-1193.4 -88.95)">*</text>
<line x1="905.6" y1="511.1" x2="905.6" y2="846.1" stroke="#000" stroke-width="5.2" stroke-linecap="butt"/>
<line x1="880.1" y1="516.6" x2="905.6" y2="516.6" stroke="#000" stroke-width="5.2" stroke-linecap="butt"/>
<line x1="880.1" y1="624.6" x2="905.6" y2="624.6" stroke="#000" stroke-width="5.2" stroke-linecap="butt"/>
<line x1="880.1" y1="732.6" x2="905.6" y2="732.6" stroke="#000" stroke-width="5.2" stroke-linecap="butt"/>
<line x1="880.1" y1="840.6" x2="905.6" y2="840.6" stroke="#000" stroke-width="5.2" stroke-linecap="butt"/>
<text x="878.3" y="527.78" font-size="31.5" text-anchor="end">35</text>
<text x="878.3" y="635.78" font-size="31.5" text-anchor="end">30</text>
<text x="878.3" y="743.78" font-size="31.5" text-anchor="end">25</text>
<text x="878.3" y="851.78" font-size="31.5" text-anchor="end">20</text>
<line x1="880.6" y1="840.6" x2="1235.7" y2="840.6" stroke="#000" stroke-width="5.2" stroke-linecap="butt"/>
<line x1="928.6" y1="840.6" x2="928.6" y2="866.6" stroke="#000" stroke-width="5.2" stroke-linecap="butt"/>
<line x1="974.9" y1="840.6" x2="974.9" y2="866.6" stroke="#000" stroke-width="5.2" stroke-linecap="butt"/>
<line x1="1021.2" y1="840.6" x2="1021.2" y2="866.6" stroke="#000" stroke-width="5.2" stroke-linecap="butt"/>
<line x1="1067.5" y1="840.6" x2="1067.5" y2="866.6" stroke="#000" stroke-width="5.2" stroke-linecap="butt"/>
<line x1="1113.8" y1="840.6" x2="1113.8" y2="866.6" stroke="#000" stroke-width="5.2" stroke-linecap="butt"/>
<line x1="1160.1" y1="840.6" x2="1160.1" y2="866.6" stroke="#000" stroke-width="5.2" stroke-linecap="butt"/>
<line x1="1206.4" y1="840.6" x2="1206.4" y2="866.6" stroke="#000" stroke-width="5.2" stroke-linecap="butt"/>
<text x="928.6" y="902.6" font-size="31.5" text-anchor="middle">1</text>
<text x="974.9" y="902.6" font-size="31.5" text-anchor="middle">2</text>
<text x="1021.2" y="902.6" font-size="31.5" text-anchor="middle">3</text>
<text x="1067.5" y="902.6" font-size="31.5" text-anchor="middle">4</text>
<text x="1113.8" y="902.6" font-size="31.5" text-anchor="middle">5</text>
<text x="1160.1" y="902.6" font-size="31.5" text-anchor="middle">6</text>
<text x="1206.4" y="902.6" font-size="31.5" text-anchor="middle">7</text>
<text x="1068.8" y="946.2" font-size="31" text-anchor="middle">Weeks</text>
<circle cx="921.85" cy="732.6" r="2.9" fill="#000"/>
<circle cx="938.4" cy="732.6" r="2.9" fill="#000"/>
<circle cx="954.95" cy="732.6" r="2.9" fill="#000"/>
<circle cx="971.5" cy="732.6" r="2.9" fill="#000"/>
<circle cx="988.05" cy="732.6" r="2.9" fill="#000"/>
<circle cx="1004.6" cy="732.6" r="2.9" fill="#000"/>
<circle cx="1021.15" cy="732.6" r="2.9" fill="#000"/>
<circle cx="1037.7" cy="732.6" r="2.9" fill="#000"/>
<circle cx="1054.25" cy="732.6" r="2.9" fill="#000"/>
<circle cx="1070.8" cy="732.6" r="2.9" fill="#000"/>
<circle cx="1087.35" cy="732.6" r="2.9" fill="#000"/>
<circle cx="1103.9" cy="732.6" r="2.9" fill="#000"/>
<circle cx="1120.45" cy="732.6" r="2.9" fill="#000"/>
<circle cx="1137" cy="732.6" r="2.9" fill="#000"/>
<circle cx="1153.55" cy="732.6" r="2.9" fill="#000"/>
<circle cx="1170.1" cy="732.6" r="2.9" fill="#000"/>
<circle cx="1186.65" cy="732.6" r="2.9" fill="#000"/>
<circle cx="1203.2" cy="732.6" r="2.9" fill="#000"/>
<circle cx="1219.75" cy="732.6" r="2.9" fill="#000"/>
<rect x="918.85" y="701.25" width="19.5" height="19.5" fill="#000"/>
<rect x="921.35" y="703.75" width="14.5" height="14.5" fill="#00c000"/>
<rect x="918.85" y="744.45" width="19.5" height="19.5" fill="#000"/>
<rect x="921.35" y="746.95" width="14.5" height="14.5" fill="#00c000"/>
<rect x="918.85" y="766.05" width="19.5" height="19.5" fill="#000"/>
<rect x="921.35" y="768.55" width="14.5" height="14.5" fill="#00c000"/>
<rect x="965.15" y="701.25" width="19.5" height="19.5" fill="#000"/>
<rect x="967.65" y="703.75" width="14.5" height="14.5" fill="#00c000"/>
<rect x="965.15" y="722.85" width="19.5" height="19.5" fill="#000"/>
<rect x="967.65" y="725.35" width="14.5" height="14.5" fill="#00c000"/>
<rect x="965.15" y="744.45" width="19.5" height="19.5" fill="#000"/>
<rect x="967.65" y="746.95" width="14.5" height="14.5" fill="#00c000"/>
<rect x="1011.45" y="679.65" width="19.5" height="19.5" fill="#000"/>
<rect x="1013.95" y="682.15" width="14.5" height="14.5" fill="#00c000"/>
<rect x="1011.45" y="701.25" width="19.5" height="19.5" fill="#000"/>
<rect x="1013.95" y="703.75" width="14.5" height="14.5" fill="#00c000"/>
<rect x="1011.45" y="722.85" width="19.5" height="19.5" fill="#000"/>
<rect x="1013.95" y="725.35" width="14.5" height="14.5" fill="#00c000"/>
<rect x="1011.45" y="744.45" width="19.5" height="19.5" fill="#000"/>
<rect x="1013.95" y="746.95" width="14.5" height="14.5" fill="#00c000"/>
<rect x="1057.75" y="701.25" width="19.5" height="19.5" fill="#000"/>
<rect x="1060.25" y="703.75" width="14.5" height="14.5" fill="#00c000"/>
<rect x="1057.75" y="722.85" width="19.5" height="19.5" fill="#000"/>
<rect x="1060.25" y="725.35" width="14.5" height="14.5" fill="#00c000"/>
<rect x="1057.75" y="766.05" width="19.5" height="19.5" fill="#000"/>
<rect x="1060.25" y="768.55" width="14.5" height="14.5" fill="#00c000"/>
<rect x="1104.05" y="679.65" width="19.5" height="19.5" fill="#000"/>
<rect x="1106.55" y="682.15" width="14.5" height="14.5" fill="#00c000"/>
<rect x="1104.05" y="701.25" width="19.5" height="19.5" fill="#000"/>
<rect x="1106.55" y="703.75" width="14.5" height="14.5" fill="#00c000"/>
<rect x="1104.05" y="722.85" width="19.5" height="19.5" fill="#000"/>
<rect x="1106.55" y="725.35" width="14.5" height="14.5" fill="#00c000"/>
<rect x="1104.05" y="744.45" width="19.5" height="19.5" fill="#000"/>
<rect x="1106.55" y="746.95" width="14.5" height="14.5" fill="#00c000"/>
<rect x="1104.05" y="766.05" width="19.5" height="19.5" fill="#000"/>
<rect x="1106.55" y="768.55" width="14.5" height="14.5" fill="#00c000"/>
<rect x="1150.35" y="679.65" width="19.5" height="19.5" fill="#000"/>
<rect x="1152.85" y="682.15" width="14.5" height="14.5" fill="#00c000"/>
<rect x="1150.35" y="722.85" width="19.5" height="19.5" fill="#000"/>
<rect x="1152.85" y="725.35" width="14.5" height="14.5" fill="#00c000"/>
<rect x="1150.35" y="744.45" width="19.5" height="19.5" fill="#000"/>
<rect x="1152.85" y="746.95" width="14.5" height="14.5" fill="#00c000"/>
<rect x="1150.35" y="766.05" width="19.5" height="19.5" fill="#000"/>
<rect x="1152.85" y="768.55" width="14.5" height="14.5" fill="#00c000"/>
<rect x="1196.65" y="679.65" width="19.5" height="19.5" fill="#000"/>
<rect x="1199.15" y="682.15" width="14.5" height="14.5" fill="#00c000"/>
<rect x="1196.65" y="701.25" width="19.5" height="19.5" fill="#000"/>
<rect x="1199.15" y="703.75" width="14.5" height="14.5" fill="#00c000"/>
<rect x="1196.65" y="744.45" width="19.5" height="19.5" fill="#000"/>
<rect x="1199.15" y="746.95" width="14.5" height="14.5" fill="#00c000"/>
<polygon points="1021.2,679.2 1031.4,699.6 1011,699.6" fill="#000"/>
<polygon points="1021.2,684.79 1027.35,697.1 1015.05,697.1" fill="#ff0000"/>
<polygon points="1021.2,744 1031.4,764.4 1011,764.4" fill="#000"/>
<polygon points="1021.2,749.59 1027.35,761.9 1015.05,761.9" fill="#ff0000"/>
<polygon points="1067.5,765.6 1077.7,786 1057.3,786" fill="#000"/>
<polygon points="1067.5,771.19 1073.65,783.5 1061.35,783.5" fill="#ff0000"/>
<polygon points="1113.8,679.2 1124,699.6 1103.6,699.6" fill="#000"/>
<polygon points="1113.8,684.79 1119.95,697.1 1107.65,697.1" fill="#ff0000"/>
<polygon points="1113.8,700.8 1124,721.2 1103.6,721.2" fill="#000"/>
<polygon points="1113.8,706.39 1119.95,718.7 1107.65,718.7" fill="#ff0000"/>
<polygon points="1160.1,679.2 1170.3,699.6 1149.9,699.6" fill="#000"/>
<polygon points="1160.1,684.79 1166.25,697.1 1153.95,697.1" fill="#ff0000"/>
<polygon points="1160.1,700.8 1170.3,721.2 1149.9,721.2" fill="#000"/>
<polygon points="1160.1,706.39 1166.25,718.7 1153.95,718.7" fill="#ff0000"/>
<polygon points="1206.4,700.8 1216.6,721.2 1196.2,721.2" fill="#000"/>
<polygon points="1206.4,706.39 1212.55,718.7 1200.25,718.7" fill="#ff0000"/>
<polygon points="928.6,679.2 938.8,699.6 918.4,699.6" fill="#000"/>
<polygon points="974.9,700.8 985.1,721.2 964.7,721.2" fill="#000"/>
<polygon points="974.9,744 985.1,764.4 964.7,764.4" fill="#000"/>
<polygon points="974.9,765.6 985.1,786 964.7,786" fill="#000"/>
<polygon points="1021.2,722.4 1031.4,742.8 1011,742.8" fill="#000"/>
<polygon points="1021.2,765.6 1031.4,786 1011,786" fill="#000"/>
<polygon points="1067.5,679.2 1077.7,699.6 1057.3,699.6" fill="#000"/>
<polygon points="1067.5,700.8 1077.7,721.2 1057.3,721.2" fill="#000"/>
<polygon points="1067.5,722.4 1077.7,742.8 1057.3,742.8" fill="#000"/>
<polygon points="1113.8,722.4 1124,742.8 1103.6,742.8" fill="#000"/>
<polygon points="1113.8,765.6 1124,786 1103.6,786" fill="#000"/>
<polygon points="1160.1,722.4 1170.3,742.8 1149.9,742.8" fill="#000"/>
<polygon points="1160.1,744 1170.3,764.4 1149.9,764.4" fill="#000"/>
<polygon points="1160.1,765.6 1170.3,786 1149.9,786" fill="#000"/>
<polygon points="1206.4,679.2 1216.6,699.6 1196.2,699.6" fill="#000"/>
<polygon points="1206.4,744 1216.6,764.4 1196.2,764.4" fill="#000"/>
<polygon points="1206.4,765.6 1216.6,786 1196.2,786" fill="#000"/>
<polygon points="928.6,700.8 938.8,721.2 918.4,721.2" fill="#000"/>
<polygon points="928.6,706.39 934.75,718.7 922.45,718.7" fill="#fff"/>
<polygon points="928.6,722.4 938.8,742.8 918.4,742.8" fill="#000"/>
<polygon points="928.6,727.99 934.75,740.3 922.45,740.3" fill="#fff"/>
<polygon points="928.6,744 938.8,764.4 918.4,764.4" fill="#000"/>
<polygon points="928.6,749.59 934.75,761.9 922.45,761.9" fill="#fff"/>
<polygon points="928.6,765.6 938.8,786 918.4,786" fill="#000"/>
<polygon points="928.6,771.19 934.75,783.5 922.45,783.5" fill="#fff"/>
<polygon points="974.9,657.6 985.1,678 964.7,678" fill="#000"/>
<polygon points="974.9,663.19 981.05,675.5 968.75,675.5" fill="#fff"/>
<polygon points="974.9,679.2 985.1,699.6 964.7,699.6" fill="#000"/>
<polygon points="974.9,684.79 981.05,697.1 968.75,697.1" fill="#fff"/>
<polygon points="974.9,722.4 985.1,742.8 964.7,742.8" fill="#000"/>
<polygon points="974.9,727.99 981.05,740.3 968.75,740.3" fill="#fff"/>
<polygon points="1021.2,614.4 1031.4,634.8 1011,634.8" fill="#000"/>
<polygon points="1021.2,619.99 1027.35,632.3 1015.05,632.3" fill="#fff"/>
<polygon points="1021.2,636 1031.4,656.4 1011,656.4" fill="#000"/>
<polygon points="1021.2,641.59 1027.35,653.9 1015.05,653.9" fill="#fff"/>
<polygon points="1021.2,657.6 1031.4,678 1011,678" fill="#000"/>
<polygon points="1021.2,663.19 1027.35,675.5 1015.05,675.5" fill="#fff"/>
<polygon points="1021.2,700.8 1031.4,721.2 1011,721.2" fill="#000"/>
<polygon points="1021.2,706.39 1027.35,718.7 1015.05,718.7" fill="#fff"/>
<polygon points="1067.5,571.2 1077.7,591.6 1057.3,591.6" fill="#000"/>
<polygon points="1067.5,576.79 1073.65,589.1 1061.35,589.1" fill="#fff"/>
<polygon points="1067.5,592.8 1077.7,613.2 1057.3,613.2" fill="#000"/>
<polygon points="1067.5,598.39 1073.65,610.7 1061.35,610.7" fill="#fff"/>
<polygon points="1067.5,614.4 1077.7,634.8 1057.3,634.8" fill="#000"/>
<polygon points="1067.5,619.99 1073.65,632.3 1061.35,632.3" fill="#fff"/>
<polygon points="1067.5,657.6 1077.7,678 1057.3,678" fill="#000"/>
<polygon points="1067.5,663.19 1073.65,675.5 1061.35,675.5" fill="#fff"/>
<polygon points="1113.8,549.6 1124,570 1103.6,570" fill="#000"/>
<polygon points="1113.8,555.19 1119.95,567.5 1107.65,567.5" fill="#fff"/>
<polygon points="1113.8,571.2 1124,591.6 1103.6,591.6" fill="#000"/>
<polygon points="1113.8,576.79 1119.95,589.1 1107.65,589.1" fill="#fff"/>
<polygon points="1113.8,592.8 1124,613.2 1103.6,613.2" fill="#000"/>
<polygon points="1113.8,598.39 1119.95,610.7 1107.65,610.7" fill="#fff"/>
<polygon points="1113.8,614.4 1124,634.8 1103.6,634.8" fill="#000"/>
<polygon points="1113.8,619.99 1119.95,632.3 1107.65,632.3" fill="#fff"/>
<polygon points="1113.8,636 1124,656.4 1103.6,656.4" fill="#000"/>
<polygon points="1113.8,641.59 1119.95,653.9 1107.65,653.9" fill="#fff"/>
<polygon points="1160.1,528 1170.3,548.4 1149.9,548.4" fill="#000"/>
<polygon points="1160.1,533.59 1166.25,545.9 1153.95,545.9" fill="#fff"/>
<polygon points="1160.1,549.6 1170.3,570 1149.9,570" fill="#000"/>
<polygon points="1160.1,555.19 1166.25,567.5 1153.95,567.5" fill="#fff"/>
<polygon points="1160.1,592.8 1170.3,613.2 1149.9,613.2" fill="#000"/>
<polygon points="1160.1,598.39 1166.25,610.7 1153.95,610.7" fill="#fff"/>
<polygon points="1160.1,614.4 1170.3,634.8 1149.9,634.8" fill="#000"/>
<polygon points="1160.1,619.99 1166.25,632.3 1153.95,632.3" fill="#fff"/>
<polygon points="1206.4,506.4 1216.6,526.8 1196.2,526.8" fill="#000"/>
<polygon points="1206.4,511.99 1212.55,524.3 1200.25,524.3" fill="#fff"/>
<polygon points="1206.4,549.6 1216.6,570 1196.2,570" fill="#000"/>
<polygon points="1206.4,555.19 1212.55,567.5 1200.25,567.5" fill="#fff"/>
<polygon points="1206.4,592.8 1216.6,613.2 1196.2,613.2" fill="#000"/>
<polygon points="1206.4,598.39 1212.55,610.7 1200.25,610.7" fill="#fff"/>
<text x="1493.05" y="470.05" font-size="31" text-anchor="middle" transform="rotate(-90 1493.05 470.05)">Cumulative food intake (g)</text>
<line x1="1592.9" y1="59.7" x2="1592.9" y2="392.6" stroke="#000" stroke-width="5.2" stroke-linecap="butt"/>
<line x1="1567.4" y1="65.2" x2="1592.9" y2="65.2" stroke="#000" stroke-width="5.2" stroke-linecap="butt"/>
<line x1="1567.4" y1="129.58" x2="1592.9" y2="129.58" stroke="#000" stroke-width="5.2" stroke-linecap="butt"/>
<line x1="1567.4" y1="193.96" x2="1592.9" y2="193.96" stroke="#000" stroke-width="5.2" stroke-linecap="butt"/>
<line x1="1567.4" y1="258.34" x2="1592.9" y2="258.34" stroke="#000" stroke-width="5.2" stroke-linecap="butt"/>
<line x1="1567.4" y1="322.72" x2="1592.9" y2="322.72" stroke="#000" stroke-width="5.2" stroke-linecap="butt"/>
<line x1="1567.4" y1="387.1" x2="1592.9" y2="387.1" stroke="#000" stroke-width="5.2" stroke-linecap="butt"/>
<text x="1565.6" y="76.38" font-size="31.5" text-anchor="end">250</text>
<text x="1565.6" y="140.76" font-size="31.5" text-anchor="end">200</text>
<text x="1565.6" y="205.14" font-size="31.5" text-anchor="end">150</text>
<text x="1565.6" y="269.52" font-size="31.5" text-anchor="end">100</text>
<text x="1565.6" y="333.9" font-size="31.5" text-anchor="end">50</text>
<text x="1565.6" y="398.28" font-size="31.5" text-anchor="end">0</text>
<polyline points="1615,356.2 1661.2,324.65 1707.4,293.11 1753.6,260.92 1799.8,228.73 1846,195.89 1892.2,163.06" fill="none" stroke="#000" stroke-width="2.4" stroke-linejoin="round"/>
<polyline points="1615,356.2 1661.2,325.3 1707.4,293.75 1753.6,261.56 1799.8,229.37 1846,196.54 1892.2,163.7" fill="none" stroke="#000" stroke-width="2.4" stroke-linejoin="round"/>
<polyline points="1615,356.2 1661.2,325.3 1707.4,293.75 1753.6,261.56 1799.8,228.73 1846,195.89 1892.2,162.41" fill="none" stroke="#000" stroke-width="2.4" stroke-linejoin="round"/>
<polyline points="1615,356.97 1661.2,321.82 1707.4,285.38 1753.6,247.65 1799.8,206.06 1846,164.73 1892.2,121.85" fill="none" stroke="#000" stroke-width="2.4" stroke-linejoin="round"/>
<rect x="1605.25" y="346.45" width="19.5" height="19.5" fill="#000"/>
<rect x="1607.75" y="348.95" width="14.5" height="14.5" fill="#00c000"/>
<rect x="1651.45" y="314.9" width="19.5" height="19.5" fill="#000"/>
<rect x="1653.95" y="317.4" width="14.5" height="14.5" fill="#00c000"/>
<rect x="1697.65" y="283.36" width="19.5" height="19.5" fill="#000"/>
<rect x="1700.15" y="285.86" width="14.5" height="14.5" fill="#00c000"/>
<rect x="1743.85" y="251.17" width="19.5" height="19.5" fill="#000"/>
<rect x="1746.35" y="253.67" width="14.5" height="14.5" fill="#00c000"/>
<rect x="1790.05" y="218.98" width="19.5" height="19.5" fill="#000"/>
<rect x="1792.55" y="221.48" width="14.5" height="14.5" fill="#00c000"/>
<rect x="1836.25" y="186.14" width="19.5" height="19.5" fill="#000"/>
<rect x="1838.75" y="188.64" width="14.5" height="14.5" fill="#00c000"/>
<rect x="1882.45" y="153.31" width="19.5" height="19.5" fill="#000"/>
<rect x="1884.95" y="155.81" width="14.5" height="14.5" fill="#00c000"/>
<polygon points="1615,346 1625.2,366.4 1604.8,366.4" fill="#000"/>
<polygon points="1615,351.59 1621.15,363.9 1608.85,363.9" fill="#ff0000"/>
<polygon points="1661.2,315.1 1671.4,335.5 1651,335.5" fill="#000"/>
<polygon points="1661.2,320.69 1667.35,333 1655.05,333" fill="#ff0000"/>
<polygon points="1707.4,283.55 1717.6,303.95 1697.2,303.95" fill="#000"/>
<polygon points="1707.4,289.14 1713.55,301.45 1701.25,301.45" fill="#ff0000"/>
<polygon points="1753.6,251.36 1763.8,271.76 1743.4,271.76" fill="#000"/>
<polygon points="1753.6,256.95 1759.75,269.26 1747.45,269.26" fill="#ff0000"/>
<polygon points="1799.8,219.17 1810,239.57 1789.6,239.57" fill="#000"/>
<polygon points="1799.8,224.76 1805.95,237.07 1793.65,237.07" fill="#ff0000"/>
<polygon points="1846,186.34 1856.2,206.74 1835.8,206.74" fill="#000"/>
<polygon points="1846,191.93 1852.15,204.24 1839.85,204.24" fill="#ff0000"/>
<polygon points="1892.2,153.5 1902.4,173.9 1882,173.9" fill="#000"/>
<polygon points="1892.2,159.09 1898.35,171.4 1886.05,171.4" fill="#ff0000"/>
<polygon points="1615,346 1625.2,366.4 1604.8,366.4" fill="#000"/>
<polygon points="1661.2,315.1 1671.4,335.5 1651,335.5" fill="#000"/>
<polygon points="1707.4,283.55 1717.6,303.95 1697.2,303.95" fill="#000"/>
<polygon points="1753.6,251.36 1763.8,271.76 1743.4,271.76" fill="#000"/>
<polygon points="1799.8,218.53 1810,238.93 1789.6,238.93" fill="#000"/>
<polygon points="1846,185.69 1856.2,206.09 1835.8,206.09" fill="#000"/>
<polygon points="1892.2,152.21 1902.4,172.61 1882,172.61" fill="#000"/>
<polygon points="1615,346.77 1625.2,367.17 1604.8,367.17" fill="#000"/>
<polygon points="1615,352.36 1621.15,364.67 1608.85,364.67" fill="#fff"/>
<polygon points="1661.2,311.62 1671.4,332.02 1651,332.02" fill="#000"/>
<polygon points="1661.2,317.21 1667.35,329.52 1655.05,329.52" fill="#fff"/>
<polygon points="1707.4,275.18 1717.6,295.58 1697.2,295.58" fill="#000"/>
<polygon points="1707.4,280.77 1713.55,293.08 1701.25,293.08" fill="#fff"/>
<polygon points="1753.6,237.45 1763.8,257.85 1743.4,257.85" fill="#000"/>
<polygon points="1753.6,243.04 1759.75,255.35 1747.45,255.35" fill="#fff"/>
<polygon points="1799.8,195.86 1810,216.26 1789.6,216.26" fill="#000"/>
<polygon points="1799.8,201.45 1805.95,213.76 1793.65,213.76" fill="#fff"/>
<polygon points="1846,154.53 1856.2,174.93 1835.8,174.93" fill="#000"/>
<polygon points="1846,160.12 1852.15,172.43 1839.85,172.43" fill="#fff"/>
<polygon points="1892.2,111.65 1902.4,132.05 1882,132.05" fill="#000"/>
<polygon points="1892.2,117.24 1898.35,129.55 1886.05,129.55" fill="#fff"/>
<text x="1866.4" y="121.61" font-size="37.84" text-anchor="middle" font-weight="bold" transform="translate(1866.4 121.61) scale(1.05 1) translate(-1866.4 -121.61)">*</text>
<text x="1884.4" y="121.61" font-size="37.84" text-anchor="middle" font-weight="bold" transform="translate(1884.4 121.61) scale(1.05 1) translate(-1884.4 -121.61)">*</text>
<text x="1902.2" y="122.61" font-size="37.84" text-anchor="middle" font-weight="bold" transform="translate(1902.2 122.61) scale(1.05 1) translate(-1902.2 -122.61)">*</text>
<text x="1919.8" y="122.61" font-size="37.84" text-anchor="middle" font-weight="bold" transform="translate(1919.8 122.61) scale(1.05 1) translate(-1919.8 -122.61)">*</text>
<line x1="1591.6" y1="511.3" x2="1591.6" y2="846.5" stroke="#000" stroke-width="5.2" stroke-linecap="butt"/>
<line x1="1566.1" y1="516.8" x2="1591.6" y2="516.8" stroke="#000" stroke-width="5.2" stroke-linecap="butt"/>
<line x1="1566.1" y1="581.64" x2="1591.6" y2="581.64" stroke="#000" stroke-width="5.2" stroke-linecap="butt"/>
<line x1="1566.1" y1="646.48" x2="1591.6" y2="646.48" stroke="#000" stroke-width="5.2" stroke-linecap="butt"/>
<line x1="1566.1" y1="711.32" x2="1591.6" y2="711.32" stroke="#000" stroke-width="5.2" stroke-linecap="butt"/>
<line x1="1566.1" y1="776.16" x2="1591.6" y2="776.16" stroke="#000" stroke-width="5.2" stroke-linecap="butt"/>
<line x1="1566.1" y1="841" x2="1591.6" y2="841" stroke="#000" stroke-width="5.2" stroke-linecap="butt"/>
<text x="1564.3" y="527.98" font-size="31.5" text-anchor="end">250</text>
<text x="1564.3" y="592.82" font-size="31.5" text-anchor="end">200</text>
<text x="1564.3" y="657.66" font-size="31.5" text-anchor="end">150</text>
<text x="1564.3" y="722.5" font-size="31.5" text-anchor="end">100</text>
<text x="1564.3" y="787.34" font-size="31.5" text-anchor="end">50</text>
<text x="1564.3" y="852.18" font-size="31.5" text-anchor="end">0</text>
<line x1="1566.3" y1="841" x2="1921.2" y2="841" stroke="#000" stroke-width="5.2" stroke-linecap="butt"/>
<line x1="1615" y1="841" x2="1615" y2="867" stroke="#000" stroke-width="5.2" stroke-linecap="butt"/>
<line x1="1661.2" y1="841" x2="1661.2" y2="867" stroke="#000" stroke-width="5.2" stroke-linecap="butt"/>
<line x1="1707.4" y1="841" x2="1707.4" y2="867" stroke="#000" stroke-width="5.2" stroke-linecap="butt"/>
<line x1="1753.6" y1="841" x2="1753.6" y2="867" stroke="#000" stroke-width="5.2" stroke-linecap="butt"/>
<line x1="1799.8" y1="841" x2="1799.8" y2="867" stroke="#000" stroke-width="5.2" stroke-linecap="butt"/>
<line x1="1846" y1="841" x2="1846" y2="867" stroke="#000" stroke-width="5.2" stroke-linecap="butt"/>
<line x1="1892.2" y1="841" x2="1892.2" y2="867" stroke="#000" stroke-width="5.2" stroke-linecap="butt"/>
<text x="1615" y="902.6" font-size="31.5" text-anchor="middle">1</text>
<text x="1661.2" y="902.6" font-size="31.5" text-anchor="middle">2</text>
<text x="1707.4" y="902.6" font-size="31.5" text-anchor="middle">3</text>
<text x="1753.6" y="902.6" font-size="31.5" text-anchor="middle">4</text>
<text x="1799.8" y="902.6" font-size="31.5" text-anchor="middle">5</text>
<text x="1846" y="902.6" font-size="31.5" text-anchor="middle">6</text>
<text x="1892.2" y="902.6" font-size="31.5" text-anchor="middle">7</text>
<text x="1754.45" y="945.8" font-size="31" text-anchor="middle">Weeks</text>
<rect x="1605.25" y="797.53" width="19.5" height="19.5" fill="#000"/>
<rect x="1607.75" y="800.03" width="14.5" height="14.5" fill="#00c000"/>
<rect x="1605.25" y="800.13" width="19.5" height="19.5" fill="#000"/>
<rect x="1607.75" y="802.63" width="14.5" height="14.5" fill="#00c000"/>
<rect x="1651.45" y="763.82" width="19.5" height="19.5" fill="#000"/>
<rect x="1653.95" y="766.32" width="14.5" height="14.5" fill="#00c000"/>
<rect x="1651.45" y="766.41" width="19.5" height="19.5" fill="#000"/>
<rect x="1653.95" y="768.91" width="14.5" height="14.5" fill="#00c000"/>
<rect x="1697.65" y="730.1" width="19.5" height="19.5" fill="#000"/>
<rect x="1700.15" y="732.6" width="14.5" height="14.5" fill="#00c000"/>
<rect x="1697.65" y="735.29" width="19.5" height="19.5" fill="#000"/>
<rect x="1700.15" y="737.79" width="14.5" height="14.5" fill="#00c000"/>
<rect x="1697.65" y="739.18" width="19.5" height="19.5" fill="#000"/>
<rect x="1700.15" y="741.68" width="14.5" height="14.5" fill="#00c000"/>
<rect x="1743.85" y="700.27" width="19.5" height="19.5" fill="#000"/>
<rect x="1746.35" y="702.77" width="14.5" height="14.5" fill="#00c000"/>
<rect x="1743.85" y="704.16" width="19.5" height="19.5" fill="#000"/>
<rect x="1746.35" y="706.66" width="14.5" height="14.5" fill="#00c000"/>
<rect x="1743.85" y="708.05" width="19.5" height="19.5" fill="#000"/>
<rect x="1746.35" y="710.55" width="14.5" height="14.5" fill="#00c000"/>
<rect x="1790.05" y="666.56" width="19.5" height="19.5" fill="#000"/>
<rect x="1792.55" y="669.06" width="14.5" height="14.5" fill="#00c000"/>
<rect x="1790.05" y="671.74" width="19.5" height="19.5" fill="#000"/>
<rect x="1792.55" y="674.24" width="14.5" height="14.5" fill="#00c000"/>
<rect x="1790.05" y="675.63" width="19.5" height="19.5" fill="#000"/>
<rect x="1792.55" y="678.13" width="14.5" height="14.5" fill="#00c000"/>
<rect x="1836.25" y="632.84" width="19.5" height="19.5" fill="#000"/>
<rect x="1838.75" y="635.34" width="14.5" height="14.5" fill="#00c000"/>
<rect x="1836.25" y="639.32" width="19.5" height="19.5" fill="#000"/>
<rect x="1838.75" y="641.82" width="14.5" height="14.5" fill="#00c000"/>
<rect x="1836.25" y="643.21" width="19.5" height="19.5" fill="#000"/>
<rect x="1838.75" y="645.71" width="14.5" height="14.5" fill="#00c000"/>
<rect x="1882.45" y="599.12" width="19.5" height="19.5" fill="#000"/>
<rect x="1884.95" y="601.62" width="14.5" height="14.5" fill="#00c000"/>
<rect x="1882.45" y="605.61" width="19.5" height="19.5" fill="#000"/>
<rect x="1884.95" y="608.11" width="14.5" height="14.5" fill="#00c000"/>
<rect x="1882.45" y="609.5" width="19.5" height="19.5" fill="#000"/>
<rect x="1884.95" y="612" width="14.5" height="14.5" fill="#00c000"/>
<polygon points="1615,799.68 1625.2,820.08 1604.8,820.08" fill="#000"/>
<polygon points="1615,805.27 1621.15,817.58 1608.85,817.58" fill="#ff0000"/>
<polygon points="1661.2,768.55 1671.4,788.95 1651,788.95" fill="#000"/>
<polygon points="1661.2,774.14 1667.35,786.45 1655.05,786.45" fill="#ff0000"/>
<polygon points="1707.4,737.43 1717.6,757.83 1697.2,757.83" fill="#000"/>
<polygon points="1707.4,743.02 1713.55,755.33 1701.25,755.33" fill="#ff0000"/>
<polygon points="1753.6,710.2 1763.8,730.6 1743.4,730.6" fill="#000"/>
<polygon points="1753.6,715.79 1759.75,728.1 1747.45,728.1" fill="#ff0000"/>
<polygon points="1799.8,679.07 1810,699.47 1789.6,699.47" fill="#000"/>
<polygon points="1799.8,684.66 1805.95,696.97 1793.65,696.97" fill="#ff0000"/>
<polygon points="1846,647.95 1856.2,668.35 1835.8,668.35" fill="#000"/>
<polygon points="1846,653.54 1852.15,665.85 1839.85,665.85" fill="#ff0000"/>
<polygon points="1892.2,612.94 1902.4,633.34 1882,633.34" fill="#000"/>
<polygon points="1892.2,618.53 1898.35,630.84 1886.05,630.84" fill="#ff0000"/>
<polygon points="1615,799.68 1625.2,820.08 1604.8,820.08" fill="#000"/>
<polygon points="1661.2,767.26 1671.4,787.66 1651,787.66" fill="#000"/>
<polygon points="1707.4,736.13 1717.6,756.53 1697.2,756.53" fill="#000"/>
<polygon points="1753.6,703.71 1763.8,724.11 1743.4,724.11" fill="#000"/>
<polygon points="1753.6,706.31 1763.8,726.71 1743.4,726.71" fill="#000"/>
<polygon points="1799.8,668.7 1810,689.1 1789.6,689.1" fill="#000"/>
<polygon points="1799.8,673.89 1810,694.29 1789.6,694.29" fill="#000"/>
<polygon points="1846,629.8 1856.2,650.2 1835.8,650.2" fill="#000"/>
<polygon points="1846,636.28 1856.2,656.68 1835.8,656.68" fill="#000"/>
<polygon points="1846,641.47 1856.2,661.87 1835.8,661.87" fill="#000"/>
<polygon points="1892.2,597.38 1902.4,617.78 1882,617.78" fill="#000"/>
<polygon points="1892.2,602.56 1902.4,622.96 1882,622.96" fill="#000"/>
<polygon points="1892.2,607.75 1902.4,628.15 1882,628.15" fill="#000"/>
<polygon points="1615,801.62 1625.2,822.02 1604.8,822.02" fill="#000"/>
<polygon points="1615,807.21 1621.15,819.52 1608.85,819.52" fill="#fff"/>
<polygon points="1661.2,764.66 1671.4,785.06 1651,785.06" fill="#000"/>
<polygon points="1661.2,770.25 1667.35,782.56 1655.05,782.56" fill="#fff"/>
<polygon points="1661.2,768.55 1671.4,788.95 1651,788.95" fill="#000"/>
<polygon points="1661.2,774.14 1667.35,786.45 1655.05,786.45" fill="#fff"/>
<polygon points="1707.4,725.76 1717.6,746.16 1697.2,746.16" fill="#000"/>
<polygon points="1707.4,731.35 1713.55,743.66 1701.25,743.66" fill="#fff"/>
<polygon points="1707.4,733.54 1717.6,753.94 1697.2,753.94" fill="#000"/>
<polygon points="1707.4,739.13 1713.55,751.44 1701.25,751.44" fill="#fff"/>
<polygon points="1707.4,737.43 1717.6,757.83 1697.2,757.83" fill="#000"/>
<polygon points="1707.4,743.02 1713.55,755.33 1701.25,755.33" fill="#fff"/>
<polygon points="1753.6,685.56 1763.8,705.96 1743.4,705.96" fill="#000"/>
<polygon points="1753.6,691.15 1759.75,703.46 1747.45,703.46" fill="#fff"/>
<polygon points="1753.6,695.93 1763.8,716.33 1743.4,716.33" fill="#000"/>
<polygon points="1753.6,701.52 1759.75,713.83 1747.45,713.83" fill="#fff"/>
<polygon points="1753.6,699.82 1763.8,720.22 1743.4,720.22" fill="#000"/>
<polygon points="1753.6,705.41 1759.75,717.72 1747.45,717.72" fill="#fff"/>
<polygon points="1799.8,642.76 1810,663.16 1789.6,663.16" fill="#000"/>
<polygon points="1799.8,648.35 1805.95,660.66 1793.65,660.66" fill="#fff"/>
<polygon points="1799.8,653.14 1810,673.54 1789.6,673.54" fill="#000"/>
<polygon points="1799.8,658.73 1805.95,671.04 1793.65,671.04" fill="#fff"/>
<polygon points="1799.8,659.62 1810,680.02 1789.6,680.02" fill="#000"/>
<polygon points="1799.8,665.21 1805.95,677.52 1793.65,677.52" fill="#fff"/>
<polygon points="1799.8,664.81 1810,685.21 1789.6,685.21" fill="#000"/>
<polygon points="1799.8,670.4 1805.95,682.71 1793.65,682.71" fill="#fff"/>
<polygon points="1846,594.78 1856.2,615.18 1835.8,615.18" fill="#000"/>
<polygon points="1846,600.37 1852.15,612.68 1839.85,612.68" fill="#fff"/>
<polygon points="1846,602.56 1856.2,622.96 1835.8,622.96" fill="#000"/>
<polygon points="1846,608.15 1852.15,620.46 1839.85,620.46" fill="#fff"/>
<polygon points="1846,610.34 1856.2,630.74 1835.8,630.74" fill="#000"/>
<polygon points="1846,615.93 1852.15,628.24 1839.85,628.24" fill="#fff"/>
<polygon points="1892.2,553.8 1902.4,574.2 1882,574.2" fill="#000"/>
<polygon points="1892.2,559.39 1898.35,571.7 1886.05,571.7" fill="#fff"/>
<polygon points="1892.2,563.79 1902.4,584.19 1882,584.19" fill="#000"/>
<polygon points="1892.2,569.38 1898.35,581.69 1886.05,581.69" fill="#fff"/>
<polygon points="1892.2,569.75 1902.4,590.15 1882,590.15" fill="#000"/>
<polygon points="1892.2,575.34 1898.35,587.65 1886.05,587.65" fill="#fff"/>
<line x1="567" y1="990" x2="626.3" y2="990" stroke="#000" stroke-width="2.5" stroke-linecap="butt"/>
<polygon points="596.65,979.35 606.65,998.85 586.65,998.85" fill="#000"/>
<polygon points="596.65,984.61 602.72,996.45 590.58,996.45" fill="#fff"/>
<text x="658" y="999.7" font-size="30" text-anchor="start">HFD-L</text>
<line x1="757.5" y1="990" x2="817" y2="990" stroke="#000" stroke-width="2.5" stroke-linecap="butt"/>
<rect x="778" y="980.65" width="18.5" height="18.5" fill="#000"/>
<rect x="780.5" y="983.15" width="13.5" height="13.5" fill="#00c000"/>
<text x="847.5" y="999.7" font-size="30" text-anchor="start">HFD-O</text>
<line x1="967" y1="990" x2="1027" y2="990" stroke="#000" stroke-width="2.5" stroke-linecap="butt"/>
<polygon points="997,979.35 1007,998.85 987,998.85" fill="#000"/>
<text x="1057.5" y="1000.55" font-size="30" text-anchor="start">HFD-L+OlGly</text>
<line x1="1248" y1="990" x2="1308" y2="990" stroke="#000" stroke-width="2.5" stroke-linecap="butt"/>
<polygon points="1278,979.35 1288,998.85 1268,998.85" fill="#000"/>
<polygon points="1278,984.61 1284.07,996.45 1271.93,996.45" fill="#ff0000"/>
<text x="1338.62" y="1000.3" font-size="30" text-anchor="start">HFD-L+OlAla</text>
<text x="52.4" y="1379.25" font-size="30" text-anchor="middle" transform="rotate(-90 52.4 1379.25)">Body weight increment</text>
<text x="88.25" y="1378.25" font-size="30" text-anchor="middle" transform="rotate(-90 88.25 1378.25)">in 7 weeks of HFD-L (g)</text>
<rect x="203.5" y="1311.7" width="51.4" height="224.4" fill="#fff" stroke="#000" stroke-width="2.4"/>
<rect x="284.4" y="1381.2" width="51.2" height="154.9" fill="#fff" stroke="#000" stroke-width="2.4"/>
<rect x="365.2" y="1385.2" width="51.2" height="150.9" fill="#fff" stroke="#000" stroke-width="2.4"/>
<line x1="175.3" y1="1206.05" x2="175.3" y2="1540.6" stroke="#000" stroke-width="5" stroke-linecap="butt"/>
<line x1="149.4" y1="1211.65" x2="175.3" y2="1211.65" stroke="#000" stroke-width="5" stroke-linecap="butt"/>
<line x1="149.4" y1="1319.8" x2="175.3" y2="1319.8" stroke="#000" stroke-width="5" stroke-linecap="butt"/>
<line x1="149.4" y1="1427.95" x2="175.3" y2="1427.95" stroke="#000" stroke-width="5" stroke-linecap="butt"/>
<line x1="149.4" y1="1536.1" x2="175.3" y2="1536.1" stroke="#000" stroke-width="5" stroke-linecap="butt"/>
<text x="147.1" y="1222.65" font-size="31" text-anchor="end">15</text>
<text x="147.1" y="1330.81" font-size="31" text-anchor="end">10</text>
<text x="147.1" y="1438.95" font-size="31" text-anchor="end">5</text>
<text x="147.1" y="1547.11" font-size="31" text-anchor="end">0</text>
<line x1="150" y1="1536.1" x2="450" y2="1536.1" stroke="#000" stroke-width="5" stroke-linecap="butt"/>
<line x1="229.2" y1="1536.1" x2="229.2" y2="1561.8" stroke="#000" stroke-width="5" stroke-linecap="butt"/>
<line x1="310" y1="1536.1" x2="310" y2="1561.8" stroke="#000" stroke-width="5" stroke-linecap="butt"/>
<line x1="390.8" y1="1536.1" x2="390.8" y2="1561.8" stroke="#000" stroke-width="5" stroke-linecap="butt"/>
<line x1="229.2" y1="1301.3" x2="229.2" y2="1318.8" stroke="#000" stroke-width="2.6" stroke-linecap="butt"/>
<line x1="214.7" y1="1301.3" x2="243.7" y2="1301.3" stroke="#000" stroke-width="2.4" stroke-linecap="round"/>
<line x1="214.7" y1="1318.8" x2="243.7" y2="1318.8" stroke="#000" stroke-width="2.4" stroke-linecap="round"/>
<polygon points="229.2,1263.32 242.1,1289.32 216.3,1289.32" fill="#000"/>
<polygon points="229.2,1268.95 238.07,1286.82 220.33,1286.82" fill="#fff"/>
<polygon points="229.2,1276.3 242.1,1302.3 216.3,1302.3" fill="#000"/>
<polygon points="229.2,1281.93 238.07,1299.8 220.33,1299.8" fill="#fff"/>
<polygon points="229.2,1303.77 242.1,1329.77 216.3,1329.77" fill="#000"/>
<polygon points="229.2,1309.4 238.07,1327.27 220.33,1327.27" fill="#fff"/>
<polygon points="229.2,1313.29 242.1,1339.29 216.3,1339.29" fill="#000"/>
<polygon points="229.2,1318.91 238.07,1336.79 220.33,1336.79" fill="#fff"/>
<polygon points="229.2,1315.45 242.1,1341.45 216.3,1341.45" fill="#000"/>
<polygon points="229.2,1321.08 238.07,1338.95 220.33,1338.95" fill="#fff"/>
<polygon points="229.2,1315.45 242.1,1341.45 216.3,1341.45" fill="#000"/>
<polygon points="229.2,1321.08 238.07,1338.95 220.33,1338.95" fill="#fff"/>
<line x1="310" y1="1372.8" x2="310" y2="1386" stroke="#000" stroke-width="2.6" stroke-linecap="butt"/>
<line x1="295.2" y1="1372.8" x2="324.8" y2="1372.8" stroke="#000" stroke-width="2.4" stroke-linecap="round"/>
<line x1="295.2" y1="1386" x2="324.8" y2="1386" stroke="#000" stroke-width="2.4" stroke-linecap="round"/>
<polygon points="310,1350.49 322.9,1376.49 297.1,1376.49" fill="#000"/>
<polygon points="310,1358.71 322.9,1384.71 297.1,1384.71" fill="#000"/>
<polygon points="310,1365.63 322.9,1391.63 297.1,1391.63" fill="#000"/>
<polygon points="310,1380.77 322.9,1406.77 297.1,1406.77" fill="#000"/>
<polygon points="310,1382.72 322.9,1408.72 297.1,1408.72" fill="#000"/>
<polygon points="310,1385.1 322.9,1411.1 297.1,1411.1" fill="#000"/>
<line x1="390.8" y1="1377.2" x2="390.8" y2="1390" stroke="#ff0000" stroke-width="2.6" stroke-linecap="butt"/>
<line x1="376" y1="1377.2" x2="405.6" y2="1377.2" stroke="#ff0000" stroke-width="2.4" stroke-linecap="round"/>
<line x1="376" y1="1390" x2="405.6" y2="1390" stroke="#ff0000" stroke-width="2.4" stroke-linecap="round"/>
<polygon points="390.8,1354.39 403.7,1380.39 377.9,1380.39" fill="#000"/>
<polygon points="390.8,1360.01 399.67,1377.89 381.93,1377.89" fill="#ff0000"/>
<polygon points="390.8,1367.58 403.7,1393.58 377.9,1393.58" fill="#000"/>
<polygon points="390.8,1373.21 399.67,1391.08 381.93,1391.08" fill="#ff0000"/>
<polygon points="390.8,1386.18 403.7,1412.18 377.9,1412.18" fill="#000"/>
<polygon points="390.8,1391.81 399.67,1409.68 381.93,1409.68" fill="#ff0000"/>
<polygon points="390.8,1387.26 403.7,1413.26 377.9,1413.26" fill="#000"/>
<polygon points="390.8,1392.89 399.67,1410.76 381.93,1410.76" fill="#ff0000"/>
<polygon points="390.8,1390.51 403.7,1416.51 377.9,1416.51" fill="#000"/>
<polygon points="390.8,1396.13 399.67,1414.01 381.93,1414.01" fill="#ff0000"/>
<rect x="230.1" y="1203.85" width="189.9" height="8.1" fill="#000"/>
<rect x="230.1" y="1238.05" width="93.9" height="7.9" fill="#000"/>
<text x="282.1" y="1210.2" font-size="62.97" text-anchor="middle" font-weight="bold" transform="translate(282.1 1210.2) scale(1.05 1) translate(-282.1 -1210.2)">*</text>
<text x="311.3" y="1210.2" font-size="62.97" text-anchor="middle" font-weight="bold" transform="translate(311.3 1210.2) scale(1.05 1) translate(-311.3 -1210.2)">*</text>
<text x="265.4" y="1258.07" font-size="63.51" text-anchor="middle" font-weight="bold" transform="translate(265.4 1258.07) scale(1.05 1) translate(-265.4 -1258.07)">*</text>
<text x="295.1" y="1258.07" font-size="63.51" text-anchor="middle" font-weight="bold" transform="translate(295.1 1258.07) scale(1.05 1) translate(-295.1 -1258.07)">*</text>
<text x="239.5" y="1586.75" font-size="31" text-anchor="end" transform="rotate(-45 239.5 1586.75)">Vehicle</text>
<text x="320.25" y="1587.25" font-size="31" text-anchor="end" transform="rotate(-45 320.25 1587.25)">OlGly</text>
<text x="401" y="1586.25" font-size="31" text-anchor="end" transform="rotate(-45 401 1586.25)">OlAla</text>
<text x="524.25" y="1378.75" font-size="29.1" text-anchor="middle" transform="rotate(-90 524.25 1378.75)">Body weight increment</text>
<text x="557.75" y="1379.5" font-size="29.1" text-anchor="middle" transform="rotate(-90 557.75 1379.5)">in 7 weeks of HFD-L (g)</text>
<rect x="667.8" y="1336.1" width="47.7" height="192.2" fill="#d4d4d4" stroke="#000" stroke-width="2.4"/>
<rect x="669.6" y="1337.9" width="44.1" height="190.4" fill="none" stroke="#e8e8e8" stroke-width="1.1"/>
<rect x="744.8" y="1344.9" width="47.7" height="183.4" fill="#d4d4d4" stroke="#000" stroke-width="2.4"/>
<rect x="746.6" y="1346.7" width="44.1" height="181.6" fill="none" stroke="#e8e8e8" stroke-width="1.1"/>
<rect x="821.8" y="1334.5" width="47.7" height="193.8" fill="#d4d4d4" stroke="#000" stroke-width="2.4"/>
<rect x="823.6" y="1336.3" width="44.1" height="192" fill="none" stroke="#e8e8e8" stroke-width="1.1"/>
<line x1="639.8" y1="1213.25" x2="639.8" y2="1532.8" stroke="#000" stroke-width="5" stroke-linecap="butt"/>
<line x1="614.5" y1="1218.85" x2="639.8" y2="1218.85" stroke="#000" stroke-width="5" stroke-linecap="butt"/>
<line x1="614.5" y1="1322" x2="639.8" y2="1322" stroke="#000" stroke-width="5" stroke-linecap="butt"/>
<line x1="614.5" y1="1425.15" x2="639.8" y2="1425.15" stroke="#000" stroke-width="5" stroke-linecap="butt"/>
<line x1="614.5" y1="1528.3" x2="639.8" y2="1528.3" stroke="#000" stroke-width="5" stroke-linecap="butt"/>
<text x="612" y="1229.86" font-size="31" text-anchor="end">15</text>
<text x="612" y="1333.01" font-size="31" text-anchor="end">10</text>
<text x="612" y="1436.15" font-size="31" text-anchor="end">5</text>
<text x="612" y="1539.31" font-size="31" text-anchor="end">0</text>
<line x1="616.7" y1="1527.9" x2="901.7" y2="1527.9" stroke="#000" stroke-width="4.4" stroke-linecap="butt"/>
<line x1="690.9" y1="1527.9" x2="690.9" y2="1551.7" stroke="#000" stroke-width="4.4" stroke-linecap="butt"/>
<line x1="767.7" y1="1527.9" x2="767.7" y2="1551.7" stroke="#000" stroke-width="4.4" stroke-linecap="butt"/>
<line x1="844.8" y1="1527.9" x2="844.8" y2="1551.7" stroke="#000" stroke-width="4.4" stroke-linecap="butt"/>
<polygon points="691.65,1305.85 704.45,1331.55 678.85,1331.55" fill="none" stroke="#ececec" stroke-width="2.2"/>
<polygon points="691.65,1321.53 704.45,1347.23 678.85,1347.23" fill="none" stroke="#ececec" stroke-width="2.2"/>
<polygon points="691.65,1325.04 704.45,1350.74 678.85,1350.74" fill="none" stroke="#ececec" stroke-width="2.2"/>
<polygon points="691.65,1360.11 704.45,1385.81 678.85,1385.81" fill="none" stroke="#ececec" stroke-width="2.2"/>
<polygon points="768.65,1295.95 781.45,1321.65 755.85,1321.65" fill="none" stroke="#ececec" stroke-width="2.2"/>
<polygon points="768.65,1307.09 781.45,1332.79 755.85,1332.79" fill="none" stroke="#ececec" stroke-width="2.2"/>
<polygon points="768.65,1325.65 781.45,1351.35 755.85,1351.35" fill="none" stroke="#ececec" stroke-width="2.2"/>
<polygon points="768.65,1335.97 781.45,1361.67 755.85,1361.67" fill="none" stroke="#ececec" stroke-width="2.2"/>
<polygon points="768.65,1344.22 781.45,1369.92 755.85,1369.92" fill="none" stroke="#ececec" stroke-width="2.2"/>
<polygon points="768.65,1351.44 781.45,1377.14 755.85,1377.14" fill="none" stroke="#ececec" stroke-width="2.2"/>
<polygon points="768.65,1359.28 781.45,1384.98 755.85,1384.98" fill="none" stroke="#ececec" stroke-width="2.2"/>
<polygon points="845.65,1277.17 858.45,1302.87 832.85,1302.87" fill="none" stroke="#ececec" stroke-width="2.2"/>
<polygon points="845.65,1291.61 858.45,1317.31 832.85,1317.31" fill="none" stroke="#ececec" stroke-width="2.2"/>
<polygon points="845.65,1310.39 858.45,1336.09 832.85,1336.09" fill="none" stroke="#ececec" stroke-width="2.2"/>
<polygon points="845.65,1317.61 858.45,1343.31 832.85,1343.31" fill="none" stroke="#ececec" stroke-width="2.2"/>
<polygon points="845.65,1343.4 858.45,1369.1 832.85,1369.1" fill="none" stroke="#ececec" stroke-width="2.2"/>
<polygon points="845.65,1368.56 858.45,1394.26 832.85,1394.26" fill="none" stroke="#ececec" stroke-width="2.2"/>
<line x1="691.65" y1="1326.1" x2="691.65" y2="1342.6" stroke="#000" stroke-width="2.6" stroke-linecap="butt"/>
<line x1="677.9" y1="1326.1" x2="705.4" y2="1326.1" stroke="#000" stroke-width="2.4" stroke-linecap="round"/>
<line x1="677.9" y1="1342.6" x2="705.4" y2="1342.6" stroke="#000" stroke-width="2.4" stroke-linecap="round"/>
<polygon points="691.65,1305.85 704.45,1331.55 678.85,1331.55" fill="#000"/>
<polygon points="691.65,1311.46 700.41,1329.05 682.89,1329.05" fill="#fff"/>
<polygon points="691.65,1321.53 704.45,1347.23 678.85,1347.23" fill="#000"/>
<polygon points="691.65,1327.14 700.41,1344.73 682.89,1344.73" fill="#fff"/>
<polygon points="691.65,1325.04 704.45,1350.74 678.85,1350.74" fill="#000"/>
<polygon points="691.65,1330.64 700.41,1348.24 682.89,1348.24" fill="#fff"/>
<polygon points="691.65,1360.11 704.45,1385.81 678.85,1385.81" fill="#000"/>
<polygon points="691.65,1365.71 700.41,1383.31 682.89,1383.31" fill="#fff"/>
<line x1="768.65" y1="1332.7" x2="768.65" y2="1354.2" stroke="#000" stroke-width="2.6" stroke-linecap="butt"/>
<line x1="754.9" y1="1332.7" x2="782.4" y2="1332.7" stroke="#000" stroke-width="2.4" stroke-linecap="round"/>
<line x1="754.9" y1="1354.2" x2="782.4" y2="1354.2" stroke="#000" stroke-width="2.4" stroke-linecap="round"/>
<polygon points="768.65,1295.95 781.45,1321.65 755.85,1321.65" fill="#000"/>
<polygon points="768.65,1307.09 781.45,1332.79 755.85,1332.79" fill="#000"/>
<polygon points="768.65,1325.65 781.45,1351.35 755.85,1351.35" fill="#000"/>
<polygon points="768.65,1335.97 781.45,1361.67 755.85,1361.67" fill="#000"/>
<polygon points="768.65,1344.22 781.45,1369.92 755.85,1369.92" fill="#000"/>
<polygon points="768.65,1351.44 781.45,1377.14 755.85,1377.14" fill="#000"/>
<polygon points="768.65,1359.28 781.45,1384.98 755.85,1384.98" fill="#000"/>
<line x1="845.65" y1="1319" x2="845.65" y2="1345.9" stroke="#ff0000" stroke-width="2.6" stroke-linecap="butt"/>
<line x1="831.9" y1="1319" x2="859.4" y2="1319" stroke="#ff0000" stroke-width="2.4" stroke-linecap="round"/>
<line x1="831.9" y1="1345.9" x2="859.4" y2="1345.9" stroke="#ff0000" stroke-width="2.4" stroke-linecap="round"/>
<polygon points="845.65,1277.17 858.45,1302.87 832.85,1302.87" fill="#000"/>
<polygon points="845.65,1282.78 854.41,1300.37 836.89,1300.37" fill="#ff0000"/>
<polygon points="845.65,1291.61 858.45,1317.31 832.85,1317.31" fill="#000"/>
<polygon points="845.65,1297.22 854.41,1314.81 836.89,1314.81" fill="#ff0000"/>
<polygon points="845.65,1310.39 858.45,1336.09 832.85,1336.09" fill="#000"/>
<polygon points="845.65,1316 854.41,1333.59 836.89,1333.59" fill="#ff0000"/>
<polygon points="845.65,1317.61 858.45,1343.31 832.85,1343.31" fill="#000"/>
<polygon points="845.65,1323.22 854.41,1340.81 836.89,1340.81" fill="#ff0000"/>
<polygon points="845.65,1343.4 858.45,1369.1 832.85,1369.1" fill="#000"/>
<polygon points="845.65,1349 854.41,1366.6 836.89,1366.6" fill="#ff0000"/>
<polygon points="845.65,1368.56 858.45,1394.26 832.85,1394.26" fill="#000"/>
<polygon points="845.65,1374.17 854.41,1391.76 836.89,1391.76" fill="#ff0000"/>
<text x="691.2" y="1580.38" font-size="29.5" text-anchor="middle">GW</text>
<text x="767.52" y="1581.5" font-size="29.5" text-anchor="middle">OlGly</text>
<text x="845.23" y="1581.38" font-size="29.5" text-anchor="middle">OlAla</text>
<rect x="758.75" y="1593.15" width="106.25" height="7.5" fill="#000"/>
<text x="810.95" y="1629.6" font-size="29.5" text-anchor="middle">+GW</text>
<text x="963.8" y="1392.5" font-size="30" text-anchor="middle" transform="rotate(-90 963.8 1392.5)">Body weight incremen</text>
<text x="998.75" y="1387.25" font-size="30" text-anchor="middle" transform="rotate(-90 998.75 1387.25)">in 7 weeks of HFD-O (g)</text>
<line x1="1062.2" y1="1387.7" x2="1096.2" y2="1387.7" stroke="#000" stroke-width="6" stroke-linecap="round"/>
<line x1="1168.1" y1="1387.7" x2="1234" y2="1387.7" stroke="#000" stroke-width="6" stroke-linecap="round"/>
<rect x="1109.3" y="1381.6" width="43.4" height="168.2" fill="#fff" stroke="#000" stroke-width="2.4"/>
<rect x="1179.3" y="1337.2" width="43.4" height="212.6" fill="#d4d4d4" stroke="#000" stroke-width="2.4"/>
<rect x="1181.1" y="1339" width="39.8" height="210.8" fill="none" stroke="#e8e8e8" stroke-width="1.1"/>
<line x1="1085.4" y1="1208.5" x2="1085.4" y2="1554.3" stroke="#000" stroke-width="5" stroke-linecap="butt"/>
<line x1="1060.5" y1="1214.1" x2="1085.4" y2="1214.1" stroke="#000" stroke-width="5" stroke-linecap="butt"/>
<line x1="1060.5" y1="1326" x2="1085.4" y2="1326" stroke="#000" stroke-width="5" stroke-linecap="butt"/>
<line x1="1060.5" y1="1437.9" x2="1085.4" y2="1437.9" stroke="#000" stroke-width="5" stroke-linecap="butt"/>
<line x1="1060.5" y1="1549.8" x2="1085.4" y2="1549.8" stroke="#000" stroke-width="5" stroke-linecap="butt"/>
<text x="1058" y="1225.11" font-size="31" text-anchor="end">15</text>
<text x="1058" y="1337.01" font-size="31" text-anchor="end">10</text>
<text x="1058" y="1448.9" font-size="31" text-anchor="end">5</text>
<text x="1058" y="1560.81" font-size="31" text-anchor="end">0</text>
<line x1="1060" y1="1549.8" x2="1252.9" y2="1549.8" stroke="#000" stroke-width="5" stroke-linecap="butt"/>
<line x1="1131.9" y1="1549.8" x2="1131.9" y2="1575.1" stroke="#000" stroke-width="5" stroke-linecap="butt"/>
<line x1="1200.8" y1="1549.8" x2="1200.8" y2="1575.1" stroke="#000" stroke-width="5" stroke-linecap="butt"/>
<line x1="1131" y1="1367.6" x2="1131" y2="1393.7" stroke="#000" stroke-width="2.6" stroke-linecap="butt"/>
<line x1="1118.25" y1="1367.6" x2="1143.75" y2="1367.6" stroke="#000" stroke-width="2.4" stroke-linecap="round"/>
<line x1="1118.25" y1="1393.7" x2="1143.75" y2="1393.7" stroke="#000" stroke-width="2.4" stroke-linecap="round"/>
<rect x="1118.65" y="1316.11" width="24.7" height="24.7" fill="#000"/>
<rect x="1121.15" y="1318.61" width="19.7" height="19.7" fill="#00c000"/>
<rect x="1118.65" y="1351.47" width="24.7" height="24.7" fill="#000"/>
<rect x="1121.15" y="1353.97" width="19.7" height="19.7" fill="#00c000"/>
<rect x="1118.65" y="1375.2" width="24.7" height="24.7" fill="#000"/>
<rect x="1121.15" y="1377.7" width="19.7" height="19.7" fill="#00c000"/>
<rect x="1118.65" y="1383.25" width="24.7" height="24.7" fill="#000"/>
<rect x="1121.15" y="1385.75" width="19.7" height="19.7" fill="#00c000"/>
<rect x="1118.65" y="1410.11" width="24.7" height="24.7" fill="#000"/>
<rect x="1121.15" y="1412.61" width="19.7" height="19.7" fill="#00c000"/>
<rect x="1189" y="1298.33" width="24" height="24" fill="none" stroke="#ececec" stroke-width="2.2"/>
<rect x="1189" y="1313.33" width="24" height="24" fill="none" stroke="#ececec" stroke-width="2.2"/>
<rect x="1189" y="1336.38" width="24" height="24" fill="none" stroke="#ececec" stroke-width="2.2"/>
<rect x="1189" y="1353.61" width="24" height="24" fill="none" stroke="#ececec" stroke-width="2.2"/>
<line x1="1201" y1="1329" x2="1201" y2="1344.8" stroke="#000" stroke-width="2.6" stroke-linecap="butt"/>
<line x1="1188.25" y1="1329" x2="1213.75" y2="1329" stroke="#000" stroke-width="2.4" stroke-linecap="round"/>
<line x1="1188.25" y1="1344.8" x2="1213.75" y2="1344.8" stroke="#000" stroke-width="2.4" stroke-linecap="round"/>
<rect x="1189" y="1298.33" width="24" height="24" fill="#000"/>
<rect x="1191.5" y="1300.83" width="19" height="19" fill="#00c000"/>
<rect x="1189" y="1313.33" width="24" height="24" fill="#000"/>
<rect x="1191.5" y="1315.83" width="19" height="19" fill="#00c000"/>
<rect x="1189" y="1336.38" width="24" height="24" fill="#000"/>
<rect x="1191.5" y="1338.88" width="19" height="19" fill="#00c000"/>
<rect x="1189" y="1353.61" width="24" height="24" fill="#000"/>
<rect x="1191.5" y="1356.11" width="19" height="19" fill="#00c000"/>
<rect x="1113.6" y="1283.05" width="104" height="7.7" fill="#000"/>
<text x="1165.2" y="1291.53" font-size="62.43" text-anchor="middle" font-weight="bold" transform="translate(1165.2 1291.53) scale(1.05 1) translate(-1165.2 -1291.53)">*</text>
<text x="1245.1" y="1395.62" font-size="31" text-anchor="start">Chow</text>
<text x="1142.5" y="1601.75" font-size="31" text-anchor="end" transform="rotate(-45 1142.5 1601.75)">Vehicle</text>
<text x="1211" y="1600.75" font-size="31" text-anchor="end" transform="rotate(-45 1211 1600.75)">GW</text>
<text x="1383.5" y="1395" font-size="31" text-anchor="middle" transform="rotate(-90 1383.5 1395)">Cumulative food intake (g)</text>
<rect x="1508.9" y="1352.2" width="43" height="197.7" fill="#fff" stroke="#000" stroke-width="2.4"/>
<rect x="1578.9" y="1467.7" width="42.8" height="82.2" fill="#fff" stroke="#000" stroke-width="2.4"/>
<line x1="1484.2" y1="1217.75" x2="1484.2" y2="1554.4" stroke="#000" stroke-width="5" stroke-linecap="butt"/>
<line x1="1458.5" y1="1223.35" x2="1484.2" y2="1223.35" stroke="#000" stroke-width="5" stroke-linecap="butt"/>
<line x1="1458.5" y1="1332.2" x2="1484.2" y2="1332.2" stroke="#000" stroke-width="5" stroke-linecap="butt"/>
<line x1="1458.5" y1="1441.05" x2="1484.2" y2="1441.05" stroke="#000" stroke-width="5" stroke-linecap="butt"/>
<line x1="1458.5" y1="1549.9" x2="1484.2" y2="1549.9" stroke="#000" stroke-width="5" stroke-linecap="butt"/>
<text x="1456" y="1234.36" font-size="31" text-anchor="end">185</text>
<text x="1456" y="1343.21" font-size="31" text-anchor="end">180</text>
<text x="1456" y="1452.06" font-size="31" text-anchor="end">175</text>
<text x="1456" y="1560.91" font-size="31" text-anchor="end">170</text>
<line x1="1458.1" y1="1549.9" x2="1652.8" y2="1549.9" stroke="#000" stroke-width="5" stroke-linecap="butt"/>
<line x1="1530.7" y1="1549.9" x2="1530.7" y2="1575.3" stroke="#000" stroke-width="5" stroke-linecap="butt"/>
<line x1="1600.6" y1="1549.9" x2="1600.6" y2="1575.3" stroke="#000" stroke-width="5" stroke-linecap="butt"/>
<line x1="1530.4" y1="1331.9" x2="1530.4" y2="1369.6" stroke="#000" stroke-width="2.6" stroke-linecap="butt"/>
<line x1="1517.4" y1="1331.9" x2="1543.4" y2="1331.9" stroke="#000" stroke-width="2.4" stroke-linecap="round"/>
<line x1="1517.4" y1="1369.6" x2="1543.4" y2="1369.6" stroke="#000" stroke-width="2.4" stroke-linecap="round"/>
<circle cx="1530.4" cy="1244.68" r="11" fill="none" stroke="#000" stroke-width="2.4"/>
<circle cx="1530.4" cy="1266.89" r="11" fill="none" stroke="#000" stroke-width="2.4"/>
<circle cx="1530.4" cy="1289.31" r="11" fill="none" stroke="#000" stroke-width="2.4"/>
<circle cx="1530.4" cy="1331.33" r="11" fill="none" stroke="#000" stroke-width="2.4"/>
<circle cx="1530.4" cy="1353.97" r="11" fill="none" stroke="#000" stroke-width="2.4"/>
<circle cx="1530.4" cy="1375.74" r="11" fill="none" stroke="#000" stroke-width="2.4"/>
<circle cx="1530.4" cy="1418.63" r="11" fill="none" stroke="#000" stroke-width="2.4"/>
<circle cx="1530.4" cy="1484.59" r="11" fill="none" stroke="#000" stroke-width="2.4"/>
<line x1="1600.3" y1="1456.4" x2="1600.3" y2="1477" stroke="#000" stroke-width="2.6" stroke-linecap="butt"/>
<line x1="1587.8" y1="1456.4" x2="1612.8" y2="1456.4" stroke="#000" stroke-width="2.4" stroke-linecap="round"/>
<line x1="1587.8" y1="1477" x2="1612.8" y2="1477" stroke="#000" stroke-width="2.4" stroke-linecap="round"/>
<rect x="1587.95" y="1428.26" width="24.7" height="24.7" fill="#000"/>
<rect x="1590.45" y="1430.76" width="19.7" height="19.7" fill="#00c000"/>
<rect x="1587.95" y="1451.34" width="24.7" height="24.7" fill="#000"/>
<rect x="1590.45" y="1453.84" width="19.7" height="19.7" fill="#00c000"/>
<rect x="1587.95" y="1473.55" width="24.7" height="24.7" fill="#000"/>
<rect x="1590.45" y="1476.05" width="19.7" height="19.7" fill="#00c000"/>
<rect x="1587.95" y="1495.32" width="24.7" height="24.7" fill="#000"/>
<rect x="1590.45" y="1497.82" width="19.7" height="19.7" fill="#00c000"/>
<rect x="1521.3" y="1217.65" width="94.5" height="7.7" fill="#000"/>
<text x="1537.5" y="1229.73" font-size="62.43" text-anchor="middle" font-weight="bold" transform="translate(1537.5 1229.73) scale(1.05 1) translate(-1537.5 -1229.73)">*</text>
<text x="1567.4" y="1229.73" font-size="62.43" text-anchor="middle" font-weight="bold" transform="translate(1567.4 1229.73) scale(1.05 1) translate(-1567.4 -1229.73)">*</text>
<text x="1597.3" y="1229.73" font-size="62.43" text-anchor="middle" font-weight="bold" transform="translate(1597.3 1229.73) scale(1.05 1) translate(-1597.3 -1229.73)">*</text>
<text x="1540.75" y="1600.75" font-size="31" text-anchor="end" transform="rotate(-45 1540.75 1600.75)">Chow</text>
<text x="1611.75" y="1600.25" font-size="31" text-anchor="end" transform="rotate(-45 1611.75 1600.25)">HFD-O</text>
<text x="1690.75" y="1388" font-size="30" text-anchor="middle" transform="rotate(-90 1690.75 1388)">Cumulative</text>
<text x="1725.5" y="1388.45" font-size="30" text-anchor="middle" transform="rotate(-90 1725.5 1388.45)">energy intake (Kcal)</text>
<rect x="1852.7" y="1463.8" width="42.8" height="86.5" fill="#fff" stroke="#000" stroke-width="2.4"/>
<path d="M1922.3 1361.5V1322.4H1965.2V1361.5" fill="#fff" stroke="#000" stroke-width="2.4"/>
<path d="M1922.3 1402.8V1550.3M1965.2 1402.8V1550.3" fill="none" stroke="#000" stroke-width="2.4"/>
<line x1="1827.9" y1="1208.4" x2="1827.9" y2="1365.6" stroke="#000" stroke-width="5" stroke-linecap="butt"/>
<line x1="1827.9" y1="1398.6" x2="1827.9" y2="1554.6" stroke="#000" stroke-width="5" stroke-linecap="butt"/>
<line x1="1803.2" y1="1213" x2="1827.9" y2="1213" stroke="#000" stroke-width="5" stroke-linecap="butt"/>
<line x1="1803.2" y1="1287.15" x2="1827.9" y2="1287.15" stroke="#000" stroke-width="5" stroke-linecap="butt"/>
<line x1="1813" y1="1361.3" x2="1844.4" y2="1361.3" stroke="#000" stroke-width="5" stroke-linecap="butt"/>
<line x1="1813" y1="1402.6" x2="1844.4" y2="1402.6" stroke="#000" stroke-width="5" stroke-linecap="butt"/>
<line x1="1803.2" y1="1476.43" x2="1827.9" y2="1476.43" stroke="#000" stroke-width="5" stroke-linecap="butt"/>
<text x="1801" y="1224.01" font-size="31" text-anchor="end">950</text>
<text x="1801" y="1298.15" font-size="31" text-anchor="end">925</text>
<text x="1801" y="1372.31" font-size="31" text-anchor="end">900</text>
<text x="1801" y="1413.61" font-size="31" text-anchor="end">650</text>
<text x="1801" y="1487.43" font-size="31" text-anchor="end">600</text>
<text x="1801" y="1561.31" font-size="31" text-anchor="end">550</text>
<line x1="1803.2" y1="1550.3" x2="1996" y2="1550.3" stroke="#000" stroke-width="5" stroke-linecap="butt"/>
<line x1="1874.1" y1="1550.3" x2="1874.1" y2="1576.6" stroke="#000" stroke-width="5" stroke-linecap="butt"/>
<line x1="1943.3" y1="1550.3" x2="1943.3" y2="1576.6" stroke="#000" stroke-width="5" stroke-linecap="butt"/>
<line x1="1874.1" y1="1450.9" x2="1874.1" y2="1466" stroke="#000" stroke-width="2.6" stroke-linecap="butt"/>
<line x1="1861.6" y1="1450.9" x2="1886.6" y2="1450.9" stroke="#000" stroke-width="2.4" stroke-linecap="round"/>
<line x1="1861.6" y1="1466" x2="1886.6" y2="1466" stroke="#000" stroke-width="2.4" stroke-linecap="round"/>
<circle cx="1874.1" cy="1438.46" r="10.65" fill="none" stroke="#000" stroke-width="2.4"/>
<circle cx="1874.1" cy="1441.71" r="10.65" fill="none" stroke="#000" stroke-width="2.4"/>
<circle cx="1874.1" cy="1446.14" r="10.65" fill="none" stroke="#000" stroke-width="2.4"/>
<circle cx="1874.1" cy="1450.58" r="10.65" fill="none" stroke="#000" stroke-width="2.4"/>
<circle cx="1874.1" cy="1454.27" r="10.65" fill="none" stroke="#000" stroke-width="2.4"/>
<circle cx="1874.1" cy="1457.96" r="10.65" fill="none" stroke="#000" stroke-width="2.4"/>
<circle cx="1874.1" cy="1462.39" r="10.65" fill="none" stroke="#000" stroke-width="2.4"/>
<circle cx="1874.1" cy="1466.83" r="10.65" fill="none" stroke="#000" stroke-width="2.4"/>
<circle cx="1874.1" cy="1471.26" r="10.65" fill="none" stroke="#000" stroke-width="2.4"/>
<circle cx="1874.1" cy="1476.43" r="10.65" fill="none" stroke="#000" stroke-width="2.4"/>
<circle cx="1874.1" cy="1494.45" r="10.65" fill="none" stroke="#000" stroke-width="2.4"/>
<clipPath id="hclip"><rect x="1900" y="1200" width="80" height="161.9"/></clipPath>
<g clip-path="url(#hclip)">
<line x1="1943.75" y1="1313.9" x2="1943.75" y2="1328.1" stroke="#000" stroke-width="2.6" stroke-linecap="butt"/>
<line x1="1931.75" y1="1313.9" x2="1955.75" y2="1313.9" stroke="#000" stroke-width="2.4" stroke-linecap="round"/>
<line x1="1931.75" y1="1328.1" x2="1955.75" y2="1328.1" stroke="#000" stroke-width="2.4" stroke-linecap="round"/>
<rect x="1931.75" y="1290.9" width="24" height="24" fill="#000"/>
<rect x="1934.25" y="1293.4" width="19" height="19" fill="#00c000"/>
<rect x="1931.75" y="1312.7" width="24" height="24" fill="#000"/>
<rect x="1934.25" y="1315.2" width="19" height="19" fill="#00c000"/>
<rect x="1931.75" y="1321.9" width="24" height="24" fill="#000"/>
<rect x="1934.25" y="1324.4" width="19" height="19" fill="#00c000"/>
<rect x="1931.75" y="1344.5" width="24" height="24" fill="#000"/>
<rect x="1934.25" y="1347" width="19" height="19" fill="#00c000"/>
</g>
<rect x="1862" y="1207.95" width="93.8" height="8.1" fill="#000"/>
<text x="1863.5" y="1216.93" font-size="62.43" text-anchor="middle" font-weight="bold" transform="translate(1863.5 1216.93) scale(1.05 1) translate(-1863.5 -1216.93)">*</text>
<text x="1893.4" y="1216.93" font-size="62.43" text-anchor="middle" font-weight="bold" transform="translate(1893.4 1216.93) scale(1.05 1) translate(-1893.4 -1216.93)">*</text>
<text x="1923.1" y="1216.93" font-size="62.43" text-anchor="middle" font-weight="bold" transform="translate(1923.1 1216.93) scale(1.05 1) translate(-1923.1 -1216.93)">*</text>
<text x="1952.9" y="1216.93" font-size="62.43" text-anchor="middle" font-weight="bold" transform="translate(1952.9 1216.93) scale(1.05 1) translate(-1952.9 -1216.93)">*</text>
<text x="1884.75" y="1601.25" font-size="31" text-anchor="end" transform="rotate(-45 1884.75 1601.25)">Chow</text>
<text x="1955" y="1600.25" font-size="31" text-anchor="end" transform="rotate(-45 1955 1600.25)">HFD-O</text>
</svg>
</body></html>
